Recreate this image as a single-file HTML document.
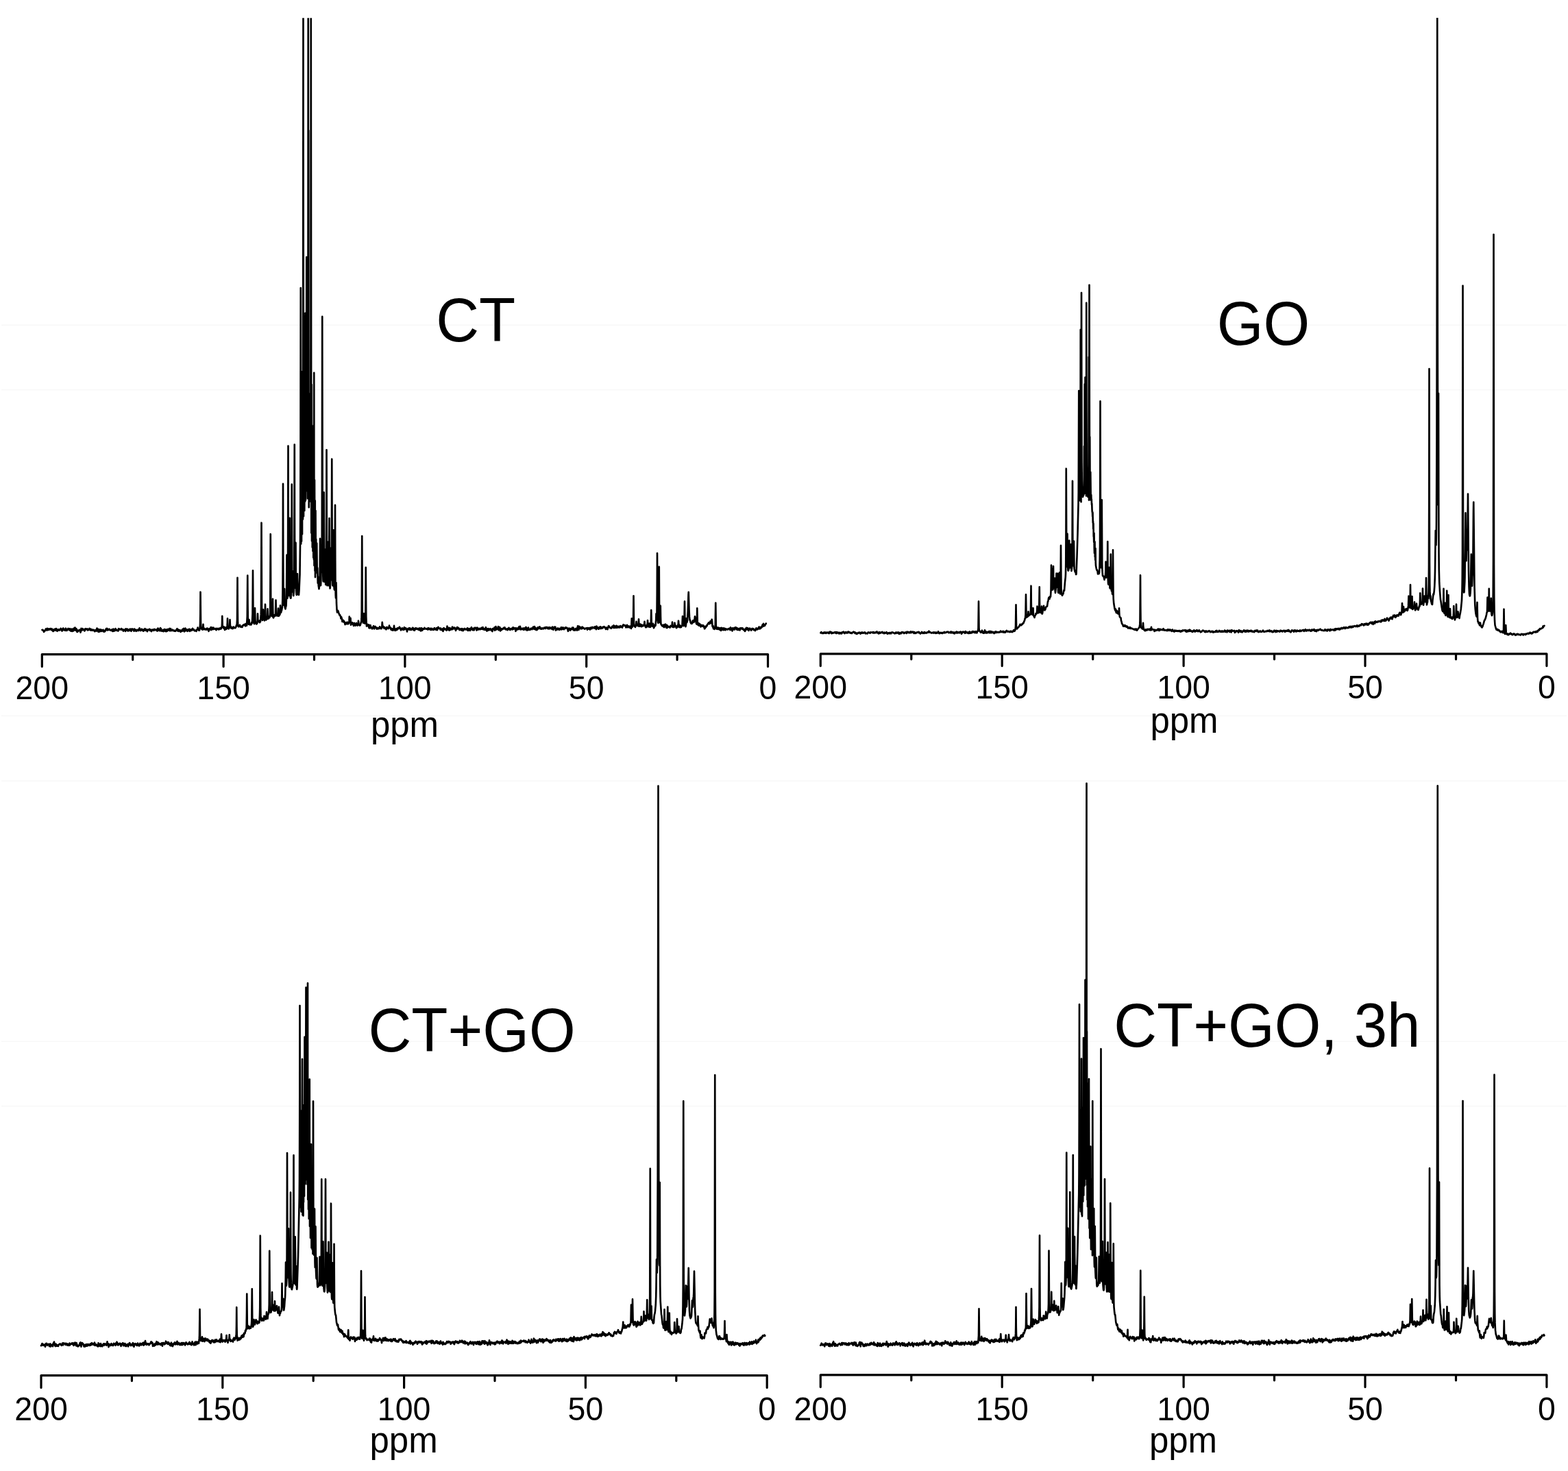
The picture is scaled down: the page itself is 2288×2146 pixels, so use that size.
<!DOCTYPE html>
<html lang="en">
<head>
<meta charset="utf-8">
<title>13C NMR spectra</title>
<style>
html,body{margin:0;padding:0;background:#fff;}
body{width:2288px;height:2146px;overflow:hidden;}
svg{display:block;}
text{font-family:"Liberation Sans",sans-serif;fill:#000;}
.t{font-size:46.5px;text-anchor:middle;}
.p{font-size:51px;text-anchor:middle;}
.l{font-size:87px;}
.s{fill:none;stroke:#000;stroke-width:2.65;stroke-linejoin:round;stroke-linecap:round;}
.a{fill:none;stroke:#000;stroke-width:3.2;stroke-linejoin:round;stroke-linecap:round;}
.g{stroke:#f4f4f4;stroke-width:1.1;}
</style>
</head>
<body>
<svg width="2288" height="2146" viewBox="0 0 2288 2146">
<rect x="0" y="0" width="2288" height="2146" fill="#fff"/>
<line class="g" x1="2" y1="474.3" x2="2286" y2="474.3"/>
<line class="g" x1="2" y1="568.8" x2="2286" y2="568.8"/>
<line class="g" x1="2" y1="1044.2" x2="2286" y2="1044.2"/>
<line class="g" x1="2" y1="1139.2" x2="2286" y2="1139.2"/>
<line class="g" x1="2" y1="1519.2" x2="2286" y2="1519.2"/>
<line class="g" x1="2" y1="1613.8" x2="2286" y2="1613.8"/>
<clipPath id="c0"><rect x="0" y="26.3" width="1144" height="1000"/></clipPath>
<g>
<path class="s" clip-path="url(#c0)" d="M61.5 918.9L62 919.3L62.5 918.9L63 919.9L63.5 919.9L64 921.8L64.5 920.8L65 921L66.5 918.5L67 917.4L68 918.3L68.5 919.6L69 916.9L69.5 917.2L70 918.8L70.5 917.3L71 918.9L71.5 918.4L72 918.2L72.5 917.5L73 918.4L73.5 917.1L74 917.1L74.5 917.3L75 918.8L75.5 919.3L76 917.6L76.5 919.4L77.5 920.9L78 920.7L78.5 920L79 918.1L79.5 918L80 919.5L80.5 917.6L81 919.4L81.5 919.6L82 917L82.5 918.7L83 918.3L83.5 920.8L84.5 918.4L85 919.5L85.5 918.3L86 919.1L86.5 919.4L87 919.2L87.5 919.3L88.5 916.8L89 918.3L89.5 917.6L90 917.7L90.5 920.6L92 916.6L92.5 916.6L93 918.4L93.5 919.4L94 918.1L94.5 918.7L95 918.9L95.5 919.8L96 916.7L96.5 919L97 919.3L97.5 919.9L98 919.4L98.5 917.8L99 918.2L99.5 916.9L100 918.5L100.5 918.6L101 919.1L101.5 917.5L102 917.2L102.5 920L103 918.7L103.5 920.7L104 919.6L104.5 917.6L105 920.2L105.5 920.9L106.5 917.6L107 920.4L107.5 919.3L108 919.5L108.5 916L109 919.2L109.5 915.6L110.5 919.8L111 917.1L111.5 917.4L112.5 921.9L113 922L113.5 919.5L114 920.9L114.5 920.2L115 919.7L115.5 919.9L116 918.8L116.5 920.4L117 920.7L117.5 922.6L118 920.6L118.5 916.8L119.5 919.5L120 919.2L120.5 917.1L121 918.9L121.5 918.4L122.5 918.3L123 919.7L123.5 920.5L124 919.5L124.5 917.2L125.5 917.4L126 918.1L126.5 917.8L127 918L127.5 917.5L128 919.4L128.5 919.1L129 919.1L129.5 917.8L130 918.4L130.5 916.9L131 917L131.5 917.9L132 919.5L132.5 919L133 918L133.5 919.4L134 919.7L134.5 919.5L135 918.7L135.5 919.5L136 918.9L137 919L138 921.2L138.5 921.2L139.5 919L140 918.9L140.5 918.9L141 920.6L141.5 916.5L142 920L142.5 917.6L143.5 921.8L144.5 918L145 921.6L145.5 921.4L146 920L146.5 920.7L147 918.4L147.5 920.5L148 920.9L148.5 919.6L149 919.2L149.5 920.4L150 920.5L150.5 918.8L151 921.4L152 920.2L152.5 921.6L153.5 920.6L154 918.7L154.5 919.6L155 917.2L155.5 918.3L156 916.8L156.5 917.1L157 919.5L157.5 918.6L158 918.3L158.5 918.8L159 918.7L159.5 917.7L160 919.1L160.5 919.2L161 919L161.5 919.6L162 919.3L162.5 918.7L163 918.6L163.5 919L164 921L164.5 918L165 919.6L165.5 917.5L166 920.8L166.5 918.6L167 919.1L167.5 920.2L168 919.8L168.5 917L169 919.2L169.5 918.4L170 919.5L170.5 919.2L171 920L172 919.2L172.5 920.5L173 917.2L173.5 918.2L174 917.4L174.5 918.3L175 918L175.5 918.4L176 918.2L176.5 918.3L177 917L177.5 918.6L178 918.9L178.5 918L179.5 918.2L180 920.7L180.5 919L181 919.3L181.5 918.7L182 918.6L182.5 918.3L183 921L183.5 917.4L184 919.5L185 918.9L185.5 917.5L186 917.9L186.5 920.4L187 918.5L187.5 920.2L188.5 919.7L189 919.8L189.5 917.7L190.5 919.9L191 917.7L191.5 920.8L192 918.1L192.5 918.5L193 917.4L193.5 919L194 918.1L194.5 918.9L195 918.2L195.5 920.7L196 917.5L196.5 919.6L197 919.4L197.5 919.9L198 918.5L198.5 920.8L199 920.5L199.5 919.5L200 919.5L200.5 919L201 920L201.5 918.5L202 920L202.5 919.7L203.5 916.3L204 919L204.5 918.8L205 920.1L205.5 918.7L206.5 917.6L207 919.4L208 918.5L209 920.7L210 918.5L210.5 919.9L211 918.1L211.5 917.2L212 919.2L212.5 917.9L213 919.9L214 918.4L215 921.2L215.5 919.7L216 918.7L216.5 919.1L218 917.7L218.5 919.4L219 920L219.5 918.4L220 919.8L220.5 920.1L221 921.1L221.5 919L222 918.6L222.5 919.2L223 918.7L223.5 918.8L224 919.8L224.5 918L225 918.9L225.5 918L226 919.3L227 918.6L227.5 919L228 918.6L229 920.3L229.5 917.8L230 920.4L230.5 916.5L231 919.1L231.5 919.5L232 918.1L232.5 918.7L233 918.3L233.5 920.4L234 916L234.5 918.4L235 917.2L235.5 919.5L236 920.7L236.5 920.6L237 920.1L237.5 919.9L238 919L238.5 921.2L239 920.4L239.5 918.6L240 918L240.5 918.7L241 920.6L242 921.2L242.5 918.4L243 918.9L243.5 920.9L244 919.6L244.5 920.2L245 917.8L245.5 919L246 919.4L247 918.5L247.5 916.9L248 920.3L249 917L249.5 920L250 919.2L250.5 920L251 919.2L251.5 918.7L252 918.8L252.5 920L253 920.2L253.5 919.7L254 919.8L254.5 920.6L255 919.8L255.5 920.7L256 920.8L256.5 920L257.5 918.9L258 917.8L258.5 917.2L259 920.3L259.5 919L260 918.5L260.5 920.9L261.5 919.2L262 920.3L262.5 919.3L263 920.1L263.5 921.9L264 921.2L264.5 919.8L265 920.7L265.5 920.8L266 918.8L266.5 918L267 920.3L267.5 918L268 917L269 921.5L269.5 919.8L270 920.1L270.5 916.6L271.5 920.1L272 918.3L272.5 920.2L273 919.3L273.5 919.3L274 920.8L274.5 918.4L275 918.5L275.5 919.3L276 919.6L276.5 917.7L277 921L277.5 919.7L278 919.1L278.5 919.7L279 918.3L279.5 919.9L280 918.4L280.5 918.8L281 916.9L282 919L282.5 918.1L283.5 919.4L284 920.4L284.5 919.8L285 920.1L285.5 919.7L286 920.5L286.5 920.9L287 918.8L288 918.5L288.5 915.6L289 918L289.5 918.9L290 919.6L290.5 918.6L291 919.7L291.75 914.8L292 910.3L292.25 895.3L292.5 863.7L293 908.5L293.5 916.3L294 917.4L294.5 917.8L295 917.4L295.5 918.7L296.25 914.3L296.5 910.8L297 917.6L297.5 916.3L298 918.3L298.5 918.1L299 917.5L300.5 918.7L301 917.3L301.5 917.8L302 916.7L302.5 918.3L303 916.8L303.5 919L304 918.4L304.5 920.9L305 919.5L305.5 917.4L306 918.2L306.5 917.5L307.5 915.2L308 919.1L308.5 918.2L309 915.3L309.5 917.9L310 918.1L310.5 916.4L311 918.1L311.5 915.5L312 917L312.5 917L313 917.7L313.5 917.4L314 917.4L314.5 918.1L315 916.9L315.5 919.2L316 917.1L316.5 918.1L317 917.1L317.5 916.8L318 917.5L318.5 917.3L319 918.5L319.5 918.4L320 916.7L320.5 917.9L321 917.5L321.5 916.4L322 915.9L322.5 917.4L323.25 915.9L323.75 914L324 909.5L324.25 898.9L324.75 914L325 915.1L325.5 913.9L326 914.5L326.5 916.7L327 914.6L327.5 915.7L328 919L328.5 916.9L329.5 915.3L330 918L330.5 916L331 917L331.25 916L331.5 914.3L331.75 910.2L332 902.3L332.5 916.5L332.75 916.6L333 916L333.5 917.4L334 917.1L334.5 915L334.75 915L335 914.5L335.5 904.1L336 914.9L336.25 915.4L336.5 915.3L337 914.3L337.5 916.7L338 915.8L338.5 916.3L339 915.6L339.5 917.2L340 914.9L340.5 916.5L341 914.6L341.5 915.7L342 915.5L342.5 916.1L343 916.3L344 915.4L345 912L345.5 913.3L346 904.4L346.5 842.8L346.75 884.8L347 906.3L347.25 910.7L348 914.3L348.5 914.1L349 913.3L349.5 913.8L350 911.8L350.5 913.8L351.5 914.8L352.5 913.7L353 913.6L353.5 914.9L354 912.5L354.5 913.1L355.5 911.4L356 911.7L356.5 911.8L357 910.8L358 913.3L358.5 910L359 911.1L359.5 910.8L360 912.6L360.75 899.4L361.25 839.5L361.5 880.9L361.75 900L362 905.1L362.5 910.3L362.75 910.6L363 910.3L363.5 904L363.75 908.1L364 910.3L364.25 911L364.5 911.4L365 910.5L365.5 911.1L366.5 911.4L367 908.2L367.5 909.5L368 906.1L368.5 895.6L369 832.4L369.5 899.5L369.75 905.9L370 908.4L370.25 908.5L370.5 908L371 910.2L371.5 906.6L372 887.1L372.5 905.3L373 908.8L373.5 908.3L374 910.5L374.5 910L375 910L375.25 909L375.5 907.3L375.75 903.1L376 895.4L376.5 907L376.75 906.9L377 906.3L377.5 907.1L378 907L378.5 906L379 908.2L379.5 905.2L380 906.9L380.25 904.2L380.75 896.4L381 885.1L381.5 762.7L382 883.4L382.25 895.4L382.5 900.2L383 904.9L383.25 904.4L383.5 902.9L384 889.3L384.25 896.9L384.5 899.9L386 905.3L386.5 900.8L387 881.7L387.5 901.3L387.75 903.2L388 904L388.5 904.3L389.5 900.6L390 903L390.5 888.4L391 902L391.5 900.1L392 902.5L393 899.3L393.5 900.7L393.75 899.3L394 895.8L394.25 884.5L394.75 779.2L395.25 883L395.75 895.6L396 897.2L396.5 898.8L396.75 898.8L397.25 898.2L397.5 896.7L398 873.8L398.25 890.5L398.5 899.5L398.75 901.1L399 901.3L399.5 899.9L400 899.1L400.5 897.1L401 899L401.5 897.7L401.75 897.7L402 896.4L402.5 875.6L403 896.6L403.25 897.9L403.75 898.3L404.75 898.4L405.25 898.2L405.5 897.6L406 887.6L406.5 898.6L406.75 898.7L407.5 897.7L408 896.6L408.25 896.7L408.5 896.1L409 883.4L409.5 892.8L409.75 893.5L410 893.6L410.5 891.6L411 890.4L411.75 886.2L412 883.6L412.25 876.9L412.5 861.1L412.75 810L413 705.8L413.25 809.8L413.5 860.7L413.75 875.4L414 880.7L414.25 882.7L414.5 881.9L415 859.1L415.5 883.9L415.75 886.2L416.5 888.4L417 885.4L417.5 884L418 873L418.5 809.7L419 867.8L419.25 872.7L419.5 872.3L419.75 864.9L420 845.3L420.5 650.6L421 841.6L421.25 860.2L421.5 866.8L421.75 869L422 867.4L422.25 858.5L422.75 755.8L423.25 859.2L423.5 869.1L423.75 872L424 872.6L424.25 872.7L424.5 871.8L425 862.8L425.25 849.4L425.5 803.4L425.75 706.6L426.25 846.5L426.5 858.9L426.75 863.5L427 863.1L427.25 854.8L427.5 833L428 868.5L428.25 869.1L428.75 864.2L429 857.6L429.25 839.1L429.75 648.6L430 773.7L430.25 835.3L430.5 853.2L430.75 857.7L431 854.6L431.5 791.7L431.75 834.8L432 856L432.25 863.4L432.5 867L432.75 867.8L433 867.8L433.5 862.5L434 837.1L434.5 866.1L434.75 866.6L435 865.4L435.75 867.5L436 867.8L436.5 861.4L437.5 838.4L438 795.7L438.25 753.7L438.5 640.8L438.75 420.1L439.25 793.5L439.75 609L440 789.7L440.5 572.7L440.75 717.4L441 779.3L441.25 542L441.5 707.7L441.75 717.2L442 757.6L442.5 -13.7L443 753.2L443.5 518.6L443.75 689.3L444.25 744.9L444.75 664.3L445 461.5L445.25 731.5L445.5 456.9L446 729.6L446.5 481.1L447 716.3L447.25 375L447.75 711.4L448 641.7L448.25 478.5L448.5 654.2L449 727.2L449.5 447L449.75 -13.7L450 726L450.25 190.3L450.5 603L450.75 740.2L451.25 586.8L451.5 732.1L451.75 695.1L452 575.1L452.25 704.2L452.5 726.2L452.75 727.1L453 716.5L453.25 677.2L453.5 485.7L453.75 -13.7L454.25 777.4L454.75 561.1L455 789.3L455.5 620.9L455.75 798.4L456 639.4L456.5 804L457 676.2L457.25 813.5L457.5 661.1L458 816.6L458.25 543.8L458.5 825.1L459 700.2L459.5 832.8L459.75 730.4L460 842.1L460.5 745.1L460.75 793.8L461 806.7L461.25 786.8L461.5 814.7L461.75 824.9L462 815.8L462.25 792.6L462.75 836.1L463 836.6L463.25 828.6L463.75 850.6L464 850.2L464.25 841.7L464.75 854.4L465.5 859.2L466.25 852.5L466.5 845.6L466.75 826.7L467 785.7L467.5 848L467.75 853.3L468 854.1L468.25 850.6L468.75 818.7L469 831.3L469.25 834.7L469.5 825.4L469.75 792.4L470.25 461.9L470.75 795.4L471 827.6L471.5 846.5L471.75 848.3L472 846.4L472.25 834.2L472.75 718.4L473 794.6L473.25 833.9L473.5 846.7L473.75 848.9L474 845.7L474.5 801.7L475 848.5L475.25 853L475.5 853L475.75 846L476 828.2L476.25 771.9L476.5 656.2L477 827.2L477.25 846.4L477.5 854.1L477.75 850.5L478 831.9L478.25 790.6L478.75 847L479 851.6L479.25 854L479.5 854.2L479.75 851.9L480 844L480.5 756.1L480.75 814.5L481 842.3L481.25 853.2L481.5 858.4L481.75 857.8L482 853.2L482.5 799.5L482.75 831.9L483 845.6L483.25 846.1L483.75 827.5L484.25 669.7L484.75 833.4L485.25 852.6L485.5 854.4L485.75 854.1L486 848.6L486.5 773.4L487 846.6L487.25 853.9L487.75 859.3L488 860.5L488.25 857.3L488.5 847L488.75 812.3L489 736.9L489.25 817.2L489.5 856.5L489.75 868.7L490 872.5L490.25 865.9L490.5 850L491 879.9L491.5 889.4L492 893.4L493 890.7L493.5 891.6L494.25 894.2L495.5 897.5L496 897L497 899.4L497.5 902.5L498 900L499 903.1L499.5 907L500 905.7L501 904.8L501.5 907.4L502 906.3L502.5 908.2L503 907.5L503.5 911.1L504 908.2L504.5 910.3L505 909.9L505.5 910.2L506 908.4L506.5 907.7L507 908.2L507.5 910.3L508 909.4L508.5 909.8L509.25 908.3L509.5 905.9L509.75 899.6L510 904.9L510.25 907.5L510.5 908.2L511.25 905L511.5 901.8L512 911.7L512.5 909.7L513 909.9L514 908.2L515 911.2L515.5 910.1L516 912.9L516.5 909.1L517 908.9L517.5 911L518 910L518.5 912.8L519 910.6L519.5 911.3L520 909.1L520.5 911.4L521 911.6L521.5 912.6L522 911.4L522.25 911.5L522.5 911.3L523 905.7L523.5 911.3L523.75 911.2L524 910.8L524.5 912.3L525 911.4L525.5 912.4L526.75 908.5L527.25 906L527.5 902.7L527.75 890.3L528.25 782.1L528.75 889.9L529 901.9L529.25 905.4L530 908.8L530.25 908.6L530.5 907.3L530.75 904L531 895.1L531.25 904.2L531.5 907.7L531.75 909.1L532.25 909.6L532.5 909.2L532.75 908.4L533 906.1L533.25 899.3L533.5 876.4L533.75 827.8L534.25 899L534.75 911.1L535 913.5L535.5 910.3L536 913.2L536.5 913.1L537 912.4L537.5 912.8L538 911.3L538.5 916.1L539 914.7L539.5 914.7L540 916.3L540.5 912.1L541 914.5L541.5 915.4L542 915.8L542.5 915.8L543 917.5L543.5 915.3L544 916.2L544.5 915.9L545 913.2L545.5 914.1L546 917.4L546.5 914.9L547 915L547.5 913.9L548 915.4L548.5 915.1L549.5 917.5L550 915.8L550.5 915.8L551 917.5L551.5 916.3L552 916.3L552.5 917.1L553 915.9L553.5 916.3L554 914.4L554.5 917L555 915.8L555.5 916.3L556 915.4L556.5 917.2L557 916.5L557.25 915.5L557.75 907.8L558.25 912.9L558.75 914.2L559 914.6L559.5 913.8L560.5 916.7L561 915.3L561.5 916.3L562 915.9L562.5 917.3L563 916.6L563.5 918.3L564 915.5L564.5 914.8L565 916.5L565.5 915.8L566 916.1L566.5 917.2L567 915.3L567.5 915.9L568 912.6L568.5 916.1L569 915.3L569.5 915.4L570 915.9L570.5 918.5L571 916.8L571.5 919.1L572 917.2L573 917.8L573.5 919.6L574 917.5L574.5 917.1L575 912.9L575.5 917.1L575.75 917.3L576 917.3L576.5 919.9L577 919.6L577.5 917.5L578 918.5L578.5 917L579 919.1L579.5 918.6L580.5 916L581 917.4L581.5 916.9L582 915.8L582.5 916.7L583 914.7L583.5 916L584 916.2L585 919.4L585.5 917.3L586 918.2L586.5 916.7L587 916.3L587.5 918.1L588 917.7L588.5 918.9L589 918.5L590 915.2L590.5 918.3L591 916.7L591.5 916.2L592 916.1L593.5 919L594 921.5L594.5 917.7L595 918.6L595.5 916.9L596 916.9L596.5 918L597 918.3L597.5 916.2L598 918.8L598.5 916.5L599 918.6L599.5 917.6L600 918.9L600.5 918.6L601 917.5L601.5 918L602 915.8L602.5 915.8L603 917.1L603.5 919.3L604 917L604.5 917.3L605 919.7L605.5 917.8L606 917.5L606.5 916.2L607 917.3L607.5 917.7L608 916.7L608.5 917.4L609 917.1L609.5 918.2L610 918.1L610.5 917L611.5 919.2L612.5 916.3L613 918.1L613.5 917.6L614 920.5L615 916.3L615.5 917.6L616 919.8L616.5 917.2L617 917.9L617.5 918.2L618.5 916.9L619 917.6L619.5 915.8L620 916.8L621 917.4L621.5 917.3L622 917.6L623 917L624 918.4L624.5 918.5L625 916.2L625.5 917.6L626 917.9L626.5 916.8L627 918L627.5 917.7L628 918.7L628.5 916.8L629 918.9L629.5 917.6L630 916.9L630.5 917.1L631 918.5L631.5 918.6L632 918.1L632.5 918.9L633 917.6L634 916.1L634.5 918.1L635 918.1L635.5 918.3L636 918.1L636.5 918.9L637 916.2L637.5 916.1L638 919.1L639 916.9L639.5 914.9L640 915.9L641.5 916.8L642 916.7L642.5 918.6L643 916.5L643.5 917.8L644 917.6L644.5 919.2L645 918.2L645.5 918.5L646 917.4L646.5 921L647 917.6L647.5 916.2L648 917.3L648.5 917L649 918.4L649.5 918.5L650 918L651 917.3L651.5 919.6L652 918.5L652.5 913.5L653 916.5L653.5 915.6L654 916.5L654.5 919.2L655 916.2L655.5 915.9L656 919.6L656.5 916.3L657 916.8L657.5 918.7L658 917.1L658.5 917.7L659 917.6L659.5 918.3L660 914.5L661 916.2L661.5 917.5L662 915.8L662.5 916.8L663 915.6L663.5 915.8L664 917.8L664.5 916.4L665 920L665.5 917.1L666 918L666.5 917.5L667 915L667.5 915.1L668 917.5L668.5 915.8L669.5 917.2L670 916.8L670.5 919.1L671.5 918L672 918.7L672.5 917.3L673 919.3L673.5 917.2L674 919.6L674.5 917.2L675 917.8L675.5 920.2L676 919.8L676.5 917.7L677 918.7L677.5 917.3L678 917L678.5 917.7L679 917.9L679.5 918.5L680 918L680.5 917.8L681 917.3L681.5 918.9L682 916.4L682.5 919.5L683 919.9L683.5 919.8L684 917L684.5 919.2L685 917.7L685.5 917.3L686 919.9L686.5 916.8L687 917.7L687.5 916L688 915.1L688.5 918.2L689.5 919.1L690 919.1L690.5 916.8L691 919.2L691.5 919.3L692 919L692.5 915.8L693 915.8L694 916.6L694.5 915.8L695 917L695.5 919.6L696 916.7L696.5 915.6L697 917.3L697.5 917.1L698 918.6L698.5 917.1L699 917.6L699.5 916.8L700 916.8L700.5 918.3L701.5 917.5L702 917.7L702.5 915.8L703 916.4L703.5 916.5L704 917.9L704.5 915.1L705 917.2L705.5 918.3L706 917.1L707 918.7L707.5 918.8L708 916.6L708.5 917.1L709 915.2L709.5 919.3L710 919.3L710.5 920.6L711.5 917.4L712 919.7L712.5 917L713 918.4L713.5 918.2L714 919.2L714.5 919.1L715 917.4L715.5 917.1L716 918.1L716.5 917.8L717 919.8L717.5 919.2L718.5 921.1L719 917L719.5 917.1L720 918.2L720.5 917.9L721 916.9L721.5 915.3L722 919.7L722.5 916.5L723.5 914L724 918.6L724.5 918L725 917.8L725.5 916.6L726 917.6L726.5 917.1L727 914.1L727.5 919.2L728 916.4L728.5 915.3L729 914.8L729.5 916.1L730 920.4L731 917L731.5 919.3L732 918.5L732.5 918.4L733 917.5L733.5 917.2L734 917.6L734.5 917.1L735 915.8L735.5 916.3L736 917.4L736.5 915.4L737 917.1L737.5 917L738 918.4L739 917.6L739.5 917.6L740.5 919.2L741 917.2L741.5 916.9L742 917.9L742.5 915.8L743.5 918.5L744 918.5L744.5 919L745 917.3L745.5 917.5L746 916.9L746.5 916.9L747.5 918.4L748 918.1L748.5 915.4L749 918L750 916L750.5 916.4L751 917.5L751.5 917.1L752 916.4L752.5 920.8L753 916.3L754 918.7L754.5 916.8L755 918.4L755.5 916.4L756 916.5L756.5 915.6L757 917.9L757.5 914.2L758 916.2L758.5 915.8L759 913.9L759.5 918.4L760 916.3L761 918.1L761.5 917.1L762 917.3L762.5 917.9L763 916.7L763.5 917.5L764 918.8L764.5 916.5L765 916.3L765.5 918L766 918.4L766.5 918.5L767.5 914.9L768 918.6L768.5 918.6L769 919.5L769.5 916.6L770 918.3L770.5 918.9L771 915.6L771.5 918.5L772 918.8L772.5 917.9L773.5 918.8L774.5 916.8L775.5 917.8L776 916.6L776.5 918.2L777 916.3L777.5 916.3L778 914.6L778.5 917.1L779 915.9L779.5 918L780 914L780.5 916.4L781 915.9L781.5 916.3L782 918.9L782.5 918.4L783 916.6L783.5 919.1L784 916.6L784.5 917.9L785 915.2L785.5 917L786 917L786.5 916.6L787 914.8L787.5 914.3L788 916.5L788.5 917.5L789 917.3L789.5 917.4L790 916.4L790.5 917.7L791.5 916.4L792 917L792.5 917L793 917.3L794 915.6L794.5 916.4L795 916.6L795.5 915.5L796 917L796.5 915.4L797 914.8L797.5 915.6L798 915.4L798.5 916.5L799 915.3L800 917.3L800.5 915.8L801 916L801.5 915.1L802 917.3L802.5 916.7L803 916.8L803.5 915.7L804.5 916.6L805.5 917.9L806 914.6L806.5 915.6L807 915.8L807.5 918.7L808 915.7L808.5 915L809 916.5L809.5 914.7L810 916.8L810.5 914.7L811 919.5L811.5 917.9L812 918.1L812.5 917.4L813 918.4L813.5 917.9L814 916.4L814.5 918.4L815 916.9L815.5 917.7L816 918L816.5 918.9L817 916.8L817.5 917.3L818.5 917.8L819 915.2L819.5 918.5L820 917.3L820.5 916.9L821 917.7L821.5 915.4L822.5 916.9L823 918.2L823.5 916.5L824 916.7L824.5 915.7L825 916.8L825.5 915.3L826 916.3L827 915.6L827.5 916.1L828 916.9L829 920.8L829.5 917L830 916.7L830.5 918.1L831 918L831.5 916.8L832 919.6L832.5 918.5L833 918.5L833.5 917.3L834 917.2L834.5 918.1L835 915.6L836 917.2L836.5 915.6L837 919.5L837.5 917.4L838.5 918.7L839 919.7L839.5 917.9L840 917.1L840.5 916.8L841 918.1L841.5 917L842 919.7L842.5 918.2L843 913.4L843.5 916L844.5 918.9L845 913.7L846 916.9L846.5 914.8L847 915.8L847.5 915.6L848 917.4L848.5 915.6L849 916.6L849.5 914.6L850 917L851 915.6L852 916.6L852.5 916.8L853 917.6L853.5 917.7L854.5 916.5L855 916.5L855.5 916.3L856 917L856.5 916.5L857 918.6L857.5 916.1L858 916.4L858.5 916.2L859 917.6L859.5 917.1L860 916.3L860.5 917.2L861 918.5L861.5 915.6L862 915.7L862.5 916.3L863 916.4L863.5 917.2L864 914.9L864.5 915.6L865 915.3L865.5 915.5L866 916.1L866.5 915.2L867 916.4L867.5 916.5L868 914.5L868.5 914.3L869 917L869.5 915.8L870 918.2L870.5 913.6L871 916.2L871.5 915L872 915.4L872.5 916.9L873 917.5L873.5 916.3L874 917.6L874.5 915.1L875 916.6L875.5 916.2L876 914.3L876.5 917.1L877 915.4L877.5 916.6L878 915.2L878.5 916.1L879 916.6L880 914.6L880.5 915.3L881.5 914.1L882 915L883 915.5L884 917.9L884.5 915.6L885 916.3L885.5 915.8L886 915.8L886.5 918.2L887 915.3L887.5 915.6L888 913L888.5 913.4L889 914.5L890.5 916.2L891 915.9L891.5 916.5L892 916.6L892.5 915.2L893.5 913.7L894 914.5L894.5 914.3L895 915.8L895.5 912.3L896 913.2L896.5 913.3L897 916L898 913.6L898.5 913.4L899 915.6L899.5 912.9L900 915.6L900.5 915.7L901 913.8L901.5 914.9L902 915.3L902.5 913.8L904 915.5L904.5 915.5L905 913L905.5 914.8L906 913.9L907 913.7L907.5 915.2L908 915.5L908.5 913.1L909 913.3L909.5 911.3L910.5 912.7L911 912L911.5 912.7L912 912.2L912.5 913L913.5 915.4L914 912.6L914.5 914.7L915 911.8L915.5 915.1L916 914.6L916.5 913.8L917 915.1L917.5 913.4L918 914.3L918.5 914.1L919 915.7L919.5 913.7L920.5 914.4L921 917L921.25 914.4L921.75 902.3L922 909.5L922.25 913.4L922.5 914.8L922.75 914.6L923 914.2L923.5 911.5L923.75 911.2L924 908.6L924.5 869.3L925 908.5L925.25 911.6L926 913.7L926.5 912.4L927 914.9L927.5 912.9L927.75 913.2L928 913.1L928.5 906.8L928.75 910.4L929.25 912.3L929.5 912.5L930 912.4L931 913.1L931.75 907.6L932 903.3L932.5 913.6L933 910.3L934 913.6L934.5 910.5L935 911.6L935.5 911.7L936 914.2L936.5 911.6L937 913.4L937.5 912.5L938 913.4L938.5 912.2L939 911.8L939.5 912.6L940.25 909.6L940.5 906.8L941 912.2L941.5 913.2L942 914.9L942.5 915.4L943 912.5L943.5 912.3L944 914.4L944.75 909.5L945 905.1L945.5 913.7L946 912.8L946.5 914.5L947.25 912.2L947.5 909.5L947.75 912.5L948.25 914.4L948.5 914.9L949.25 914.5L949.5 913.9L949.75 910.6L950.25 890L950.75 909.2L951.25 911.4L952 913.5L952.25 913.7L952.5 913.6L952.75 912.6L953 909.9L953.25 912.3L953.5 913L954 916.2L954.5 913.9L955 914.3L956 911.1L956.5 912.7L957.25 904L957.5 895.4L957.75 902.4L958 904.2L958.25 902.5L958.5 894.8L958.75 866.1L959 807.1L959.5 894.8L959.75 903.4L960 906.7L960.25 908.3L960.5 908.8L960.75 906.9L961.25 896.7L961.75 826.9L962 876.1L962.25 898.4L962.5 904.4L962.75 907.2L963 908.1L963.25 905.8L963.75 883.7L964 899.4L964.25 907.6L964.5 910.6L965.5 912.2L966 912.1L966.5 913.4L967 911.9L967.5 912.2L968 914.2L968.5 911.6L969 915.1L969.5 914.5L970.5 910.9L971 910.6L971.5 914.3L972 914.4L972.5 915.9L973 911.9L973.5 915.9L974 915.3L974.5 913.2L975 914.4L975.5 914.2L976 914.7L976.5 914.2L977 914.2L977.5 915.7L978 913.7L978.5 912.9L979 913.5L979.5 913.9L980.25 913.8L980.5 913.5L981 907.5L981.5 914.7L981.75 915L982 915L982.5 913L983 914.5L983.5 914.8L984 912.9L984.5 908.7L985 913.5L985.5 913.8L986 914.4L986.5 912.8L987 916.2L987.5 913.9L988 915.2L988.5 914L989 914.3L989.75 909.2L990 905.7L990.25 909.1L991 914.9L991.5 912.1L992 912L992.5 915.3L993 913.5L993.5 913.6L994 915L995.25 912.3L995.5 911.4L996 899.1L996.5 911.5L996.75 912.3L997.5 913.2L998 907.9L998.25 907.4L998.5 905.2L999 877.4L999.5 908.7L999.75 911.2L1000.5 914.1L1001 911.7L1001.5 902.2L1001.75 906.6L1002 908.1L1002.25 908.1L1003 905.9L1003.75 892L1004.5 867.7L1004.75 863.9L1005.5 889.1L1006 899.4L1006.5 904.5L1006.75 904.7L1007 904.4L1007.5 907.7L1008.5 909.7L1009 908.5L1009.5 909.9L1010 909.4L1010.5 906.6L1011 905.4L1012 907.5L1012.25 907.8L1012.5 907.8L1013 904.3L1013.5 903.3L1014 899.3L1014.5 901.9L1015 906.5L1015.25 906.8L1015.5 906.8L1016 909.4L1016.5 910.6L1016.75 908.1L1017 900.9L1017.25 887.4L1017.75 906.7L1018.5 911.9L1019 911.9L1019.5 909.4L1020 912.7L1020.5 910.9L1021 910.1L1021.5 911.8L1022 911.9L1022.5 914.4L1023 911.8L1024 912.3L1025 913.7L1025.5 912.2L1026 912.9L1026.5 912.5L1027 914.7L1027.5 913.9L1028 917.3L1028.5 917L1029 914L1029.5 915.1L1030 915.1L1030.5 913.3L1031 912.7L1031.5 913.1L1032 911.5L1033 910L1033.5 910.3L1034 908.3L1034.5 909.5L1035.5 910.1L1036 907.8L1036.5 906.3L1036.75 906.5L1037 907L1037.5 908.9L1037.75 908.7L1038.5 904L1038.75 903.7L1039 905.6L1039.5 913.2L1040 914.5L1040.5 913L1041 917.2L1042 915.3L1042.5 917.9L1043 915.7L1043.25 915.8L1043.5 915.2L1043.75 911.1L1044.25 879.5L1044.75 911.6L1045.25 916.1L1045.5 917.4L1045.75 917.6L1046 917.7L1046.5 915.6L1047 917.4L1047.5 917.9L1048 917.6L1048.5 915.7L1049 917.7L1049.5 916.9L1050 918.6L1050.5 916.3L1051 918.6L1051.5 917.5L1052 920L1052.5 915.9L1053 918.2L1053.5 916.8L1054 916.4L1054.5 918.8L1055 918.4L1055.5 919L1056 916.4L1056.5 917.1L1057 918.8L1057.5 916.8L1058 918.9L1058.5 919.2L1059 917.4L1060 918.1L1060.5 917.9L1061 918.2L1061.5 917.9L1062 918.5L1062.5 917.6L1063 917.4L1063.5 917.5L1064 916.8L1064.5 917L1065 917.5L1065.5 919.2L1066 915.4L1066.5 916.1L1067 917.9L1067.5 918.3L1068 918.4L1068.5 920.5L1069 916.4L1069.5 918.3L1070 917.1L1071 918.3L1071.5 915.8L1072 918.5L1072.5 916.4L1073 916L1073.5 915.2L1074 916.2L1074.5 916.3L1075 918.4L1075.5 916.1L1076 918.2L1076.5 918.9L1077 917.6L1077.5 918.8L1078 917.2L1078.5 918.1L1079 917L1079.5 919.5L1080 916.5L1080.5 916.5L1081 917.2L1081.5 916.2L1082 916.5L1083 917.8L1083.5 916.3L1084 917.2L1084.5 917.4L1085 918.9L1085.5 919.5L1086.5 919.5L1087 920.9L1087.5 917.5L1088 919.7L1088.5 918.2L1089 915.9L1089.5 917.8L1090 916.3L1090.5 917.8L1091 916L1091.5 919.1L1092 917.4L1092.5 920L1093 917.3L1093.5 918.2L1094 916.6L1094.5 917.9L1095.5 917.8L1096 919.6L1097.5 916.9L1098.5 917.5L1099 917.1L1099.5 918.9L1100 918.3L1100.5 919.1L1101 918.1L1101.5 918.7L1102 920.1L1102.5 918.2L1103 918.5L1103.5 916.3L1104 917.1L1104.5 917.2L1105 918.4L1105.5 918.1L1106 916.7L1106.5 917.4L1107 916.7L1107.5 914.5L1108.5 917.4L1109 915.1L1109.5 917L1110 916.6L1110.5 915.8L1111 915.6L1111.5 914L1112 914.9L1112.5 911.7L1113 911.2L1113.5 912.1L1114 909.9L1114.5 913.6L1115 912.1L1115.5 912.6L1116 912.7L1116.5 911.4L1117.5 910.2L1117.75 909.5"/>
<path class="a" d="M61.3 972.4 L61.3 954.6 L1120.5 954.6 L1120.5 972.4M193.7 954.6L193.7 962.6M326.1 954.6L326.1 972.4M458.5 954.6L458.5 962.6M590.9 954.6L590.9 972.4M723.3 954.6L723.3 962.6M855.7 954.6L855.7 972.4M988.1 954.6L988.1 962.6"/>
<text class="t" transform="matrix(1 0 0 1.04 61.3 1019.8)">200</text>
<text class="t" transform="matrix(1 0 0 1.04 326.1 1019.8)">150</text>
<text class="t" transform="matrix(1 0 0 1.04 590.9 1019.8)">100</text>
<text class="t" transform="matrix(1 0 0 1.04 855.7 1019.8)">50</text>
<text class="t" transform="matrix(1 0 0 1.04 1120.5 1019.8)">0</text>
<text class="p" x="590.5" y="1074.8">ppm</text>
<text class="l" transform="matrix(1 0 0 1.04 636.3 497.5)">CT</text>
</g>
<clipPath id="c1"><rect x="1144" y="26.0" width="1144" height="1000"/></clipPath>
<g>
<path class="s" clip-path="url(#c1)" d="M1197.5 923.4L1198 922.5L1198.5 922.1L1199.5 923.8L1200 923.5L1200.5 923.6L1201 924L1201.5 923L1202 922.8L1202.5 923.7L1203 922.4L1203.5 923.4L1204 922.7L1204.5 923.7L1205 922.5L1205.5 923.8L1206 923.3L1207 922.7L1207.5 923.1L1208 922.7L1208.5 922.5L1209 923.9L1209.5 923.6L1210 924L1210.5 922.3L1211 921.5L1211.5 921.5L1212 922.9L1212.5 923.4L1213 922.3L1213.5 924.2L1214.5 922.8L1215.5 923.7L1216 923.1L1216.5 923.1L1217.5 922.5L1218 923.1L1218.5 922.1L1219 923.2L1219.5 922.4L1220 923.8L1220.5 922.2L1221 924L1221.5 922.5L1222 922.4L1222.5 923.1L1223 923.4L1223.5 922.8L1224 922.9L1224.5 924.5L1225 923.9L1225.5 922.9L1226 923.4L1226.5 924.2L1227 923.1L1227.5 923.4L1228 924.3L1228.5 922.7L1229 923.1L1229.5 922.2L1230.5 922.8L1231 921.7L1231.5 922.8L1232 923.2L1232.5 924.1L1233.5 922.4L1234 923.1L1234.5 922.1L1235.5 923.3L1236 922.7L1236.5 923.4L1237 922.7L1237.5 921.5L1238 922.4L1238.5 921.9L1239 923L1239.5 922.2L1240 922.6L1240.5 922.7L1241 923.7L1241.5 923L1242 923.1L1243 924.1L1243.5 922.9L1244 923L1245 922.3L1245.5 921.6L1246 922.3L1247 922.3L1247.5 923.9L1248 922.7L1248.5 923.3L1249 923.4L1249.5 924.6L1250 923.8L1250.5 924.9L1251 923.5L1251.5 924L1252 923.9L1252.5 923L1253 923.6L1254 922.6L1254.5 922.8L1255.5 924.5L1256 923.2L1256.5 923.9L1257 923L1257.5 923.5L1258 922.5L1259 923.6L1259.5 923L1260 923L1260.5 923.5L1261 922.8L1262 922.4L1262.5 923.1L1263 924.3L1263.5 923.7L1264 923.7L1264.5 924.1L1265.5 924.4L1267 922.3L1267.5 922.8L1268 922.9L1268.5 923.5L1269 923.3L1269.5 922.7L1270 923.6L1270.5 922.4L1271 922.7L1272 922.6L1272.5 922.7L1273 922.2L1273.5 922.2L1274 923.5L1274.5 922L1276 923.5L1276.5 923.5L1277 922.8L1277.5 922.4L1278 922.4L1278.5 923L1279.5 921.3L1280 922.9L1280.5 922.4L1281.5 924.1L1282 923.3L1282.5 924.3L1283 922.2L1283.5 923.2L1284.5 923.7L1285 922.5L1285.5 922.8L1286.5 922.9L1287 922.1L1287.5 921.9L1288 923.3L1289 923.1L1289.5 923.8L1290 924.2L1290.5 922.6L1291 923.5L1291.5 923.7L1292.5 923.1L1293 923.3L1293.5 922.2L1294.5 924.2L1295 924.6L1296 923.2L1296.5 923.2L1297 923.6L1297.5 924.3L1298.5 923L1299 923.7L1299.5 923.4L1300 924.3L1300.5 923L1301 922.7L1301.5 922.8L1302 922.4L1303 923.1L1303.5 922.8L1304 923.4L1304.5 923.4L1305.5 924.3L1306 923.6L1306.5 923.6L1307 922.6L1307.5 923.8L1308 923.8L1308.5 922.7L1309 922.9L1309.5 922.7L1310 923.7L1310.5 923.3L1311 923.8L1311.5 922.4L1312 925L1312.5 923.2L1313 923.3L1313.5 924.2L1314 923.5L1314.5 924.4L1315 922.6L1315.5 922.3L1316 923.1L1316.5 923.2L1317 922.1L1318.5 922.8L1319 924L1320 923.4L1320.5 923.2L1321 922.4L1321.5 923.1L1322 922.6L1322.5 922.4L1323 924L1323.5 921.7L1324 922.6L1325 922L1325.5 922.8L1326 923.1L1326.5 923.2L1327 922.2L1327.5 923L1328 922.7L1328.5 923.1L1329 921.3L1329.5 922.2L1330 922.2L1330.5 922.9L1331 921.9L1331.5 922L1332 921.6L1332.5 921.7L1333 922.3L1333.5 923.9L1334.5 922.2L1335 923.8L1335.5 923.2L1336 923.8L1336.5 923.8L1337 923.2L1338 922.4L1338.5 922.7L1339 922.1L1339.5 922.4L1340 923L1340.5 921.8L1341.5 922.6L1342 923.6L1342.5 923.8L1343 924.5L1344 923.5L1344.5 923.4L1345 921.9L1345.5 922.7L1346 922.5L1346.5 923.9L1347 923.8L1347.5 922.8L1348 923.1L1348.5 923.9L1349 922.1L1350 923.4L1350.5 923.4L1351 922.9L1351.5 923.5L1352 922.9L1352.5 923.3L1353 923.1L1353.5 922.2L1354 922.7L1354.5 922L1355 922.2L1355.5 920.7L1356 922.6L1356.5 922.4L1357 922.4L1357.5 922.7L1358 922.3L1358.5 923.2L1359 923.5L1360 923.4L1360.5 923.1L1361 923.1L1361.5 922.4L1362.5 923.5L1363.5 922.3L1364.5 923.5L1365 922.8L1365.5 923.9L1366 922.6L1366.5 923.6L1367 923.6L1367.5 923.2L1368.5 923.2L1369 921.4L1369.5 923.1L1370 923.9L1370.5 923.6L1371 924.2L1371.5 922.9L1372 923.4L1372.5 923.4L1373 922.8L1373.5 923.6L1374.5 923.1L1375 924L1375.5 923.9L1376 922.8L1376.5 923.2L1377 923L1377.5 923L1378 921.9L1378.5 923.4L1379.5 922.9L1380 923L1380.5 922.8L1381.5 921.8L1382 922.2L1382.5 921.8L1383 921.9L1383.5 921.6L1384.5 923.2L1386 922.5L1386.5 922.4L1387 921.7L1387.5 923.5L1388 922.1L1388.5 921.7L1389 923L1389.5 923.1L1390.5 922.3L1391 922.3L1391.5 924L1392 923.1L1392.5 922.8L1393 924.3L1393.5 922.8L1394 922.3L1394.5 922.9L1395 922.5L1395.5 923.3L1396 921.6L1396.5 923.1L1397 922.1L1397.5 923.4L1398 922.6L1398.5 922.6L1399 922.3L1399.5 923.1L1400 923.4L1400.5 922.1L1401.5 921.7L1402 922.6L1402.5 921.8L1403 924.7L1403.5 922.4L1404 923.6L1405 921.8L1405.5 921.6L1406 922.2L1406.5 922.2L1407 922.5L1407.5 921.8L1408 923.8L1408.5 923.6L1409 921.1L1409.5 922.4L1410 923L1410.5 922.4L1411 922.5L1411.5 923.5L1412 923.4L1412.5 922.4L1413 923.9L1413.5 922.7L1414 924L1414.5 922.2L1415 921.5L1415.5 923L1416 923.7L1417.5 922.3L1418 923.4L1418.5 921.3L1419 922.5L1419.5 921L1420 921.6L1420.5 921.3L1421 921.5L1421.5 922.9L1422 921.6L1422.5 922.8L1423 922.3L1423.5 923.1L1424 921.2L1425 922.4L1425.5 923.3L1426 921.1L1426.75 920.9L1427 920.6L1427.25 919.6L1427.5 916.4L1428 877.4L1428.5 915.8L1428.75 919L1429 920L1429.5 920.8L1430 920.8L1430.5 922L1431 922.7L1431.5 922.2L1432 921.1L1432.5 921.7L1432.75 921.3L1433 919.7L1433.5 922.9L1434 922.9L1434.5 923.6L1435 921.8L1435.5 921.7L1436 923.7L1436.75 921.2L1437 919.3L1437.5 921.7L1438 921.1L1438.5 923.5L1439 921.9L1439.5 921.9L1440.5 923.4L1441 921.9L1441.5 922.1L1442 921.8L1442.5 922.4L1443 921.1L1443.5 923.3L1444 921.5L1444.5 922.4L1445 920.9L1445.5 923.2L1446 922.3L1446.5 923.1L1447 921.4L1447.5 922.6L1448 921.9L1448.5 922.1L1449 923.2L1449.5 922L1450.5 924L1451 923.7L1452.5 921.3L1453 922.8L1453.5 921.7L1454 922.9L1454.5 921.9L1455.5 922L1456 922.7L1456.5 922.3L1457 922.6L1457.5 922L1458 922.5L1458.5 922.3L1459 922.3L1459.75 921.2L1460 920.5L1460.25 921.4L1461 922.1L1461.5 921.9L1462 921.3L1462.5 922.1L1463 921.1L1463.5 922L1464 921L1464.5 922.5L1465 922.6L1465.5 921.7L1466 922.5L1466.5 921.8L1467 922.6L1467.5 922L1468 920.7L1468.5 921.2L1469 919.9L1470 921.3L1470.5 921.6L1471 921L1471.5 921L1472 921.5L1472.5 921.2L1473 921.9L1473.5 922.2L1474 921.4L1474.5 921.7L1475 920.7L1476 921.3L1476.5 922.1L1477 921.5L1477.5 921.9L1478 920.5L1478.5 921.1L1479 919.3L1479.5 920.7L1480 919L1480.5 920.8L1481.5 918.7L1482 913.9L1482.5 882.3L1483 912.1L1483.25 915L1484 917.4L1485 916L1486.5 914.8L1487 914.1L1487.5 912.7L1488 912.3L1488.5 910.8L1489 912.2L1489.5 911.7L1490 912.3L1490.5 911.9L1491 910.6L1491.5 910.5L1492 910.7L1493 908.6L1493.5 909L1494.5 906.1L1495 905.4L1495.5 902.6L1495.75 902.6L1496 902.4L1496.5 896.6L1497 867.4L1497.5 896L1498 900.7L1498.5 899.8L1499 900L1499.5 899.6L1499.75 898.9L1500.25 896L1500.5 892.4L1501 898.5L1501.5 896.5L1502 897.6L1503 896.2L1503.25 896.5L1503.5 896.6L1504 890.2L1504.5 854.7L1504.75 878.8L1505 890.1L1505.25 893.3L1505.75 895.3L1506.25 896.3L1506.5 896.6L1506.75 896.5L1507 896L1507.5 887.1L1508 897.9L1508.25 898.6L1509 899.1L1509.5 901L1510 898.8L1511 897.1L1511.5 895L1512 895.5L1512.25 895.4L1512.5 895.3L1512.75 894.5L1513.25 890.3L1513.5 884.6L1513.75 889.6L1514 891.6L1515 894.2L1515.5 893.7L1516.25 887.1L1516.75 856.3L1517 877.9L1517.25 889.2L1517.5 893.3L1517.75 893.5L1518 893.1L1518.5 893.7L1519 893.3L1519.25 893.4L1519.5 893.1L1520 884.5L1520.5 895.4L1520.75 895.5L1521 895.1L1522 888.9L1522.75 886.1L1523 883.9L1523.5 888L1524 889.8L1524.5 890.3L1525 889.2L1525.5 888.7L1526 886.1L1527 884.8L1527.5 884.8L1528 884.5L1529 877.4L1529.5 876.9L1530 873.2L1530.5 871.6L1531 873.8L1531.5 873.7L1532 870.3L1532.5 871.2L1533 870.1L1533.5 862.5L1534 824.5L1534.25 847.6L1534.5 858L1534.75 860.8L1535 859.7L1535.25 849.8L1535.5 830.1L1536 857.2L1536.25 860.3L1536.5 859.7L1537 826L1537.25 846.9L1537.5 856.4L1537.75 857.7L1538 856.9L1538.25 857.6L1538.5 857.2L1539 843.5L1539.5 860.9L1540 864.9L1541 855.4L1541.5 836.5L1542 855.8L1542.25 856.5L1542.5 855.8L1542.75 856.6L1543 855.9L1543.25 850.4L1543.5 836.7L1544 862.7L1544.25 864.5L1544.5 864.8L1544.75 864.6L1545 864L1545.5 859L1546 835.4L1546.5 862.3L1546.75 865.4L1547 866.5L1547.25 863.5L1547.5 856.6L1548 795.8L1548.5 858.9L1548.75 864.3L1549.25 866.9L1550 868.7L1550.5 867.9L1551 866.2L1551.25 866.3L1551.5 866.1L1552 862.4L1552.5 860.9L1553 861.7L1554 848.8L1554.75 842.1L1555 837.1L1555.25 821.8L1555.5 776.2L1555.75 683.7L1556.25 812.4L1556.5 823.3L1556.75 826.7L1557 824.7L1557.25 810.1L1557.5 778.7L1558 824.6L1558.5 832.1L1558.75 832.5L1559 832.4L1559.25 831.8L1559.5 830.4L1559.75 826.1L1560.25 788.5L1560.5 812.4L1560.75 824.1L1561 827.4L1561.25 828.2L1561.5 828L1561.75 828L1562 825.9L1562.5 794L1563 826.4L1563.5 832.9L1564 828.8L1564.25 824.7L1564.5 813.8L1565 701.7L1565.25 776.5L1565.5 812.9L1565.75 822.5L1566 825.3L1566.25 825.4L1566.5 822.5L1567 789.6L1567.5 827.9L1567.75 831L1568.25 832.9L1569 834.6L1569.5 832.3L1570 837.9L1570.25 838L1570.5 837.4L1571.5 811.7L1572.5 778.3L1573.5 735.9L1573.75 719.1L1574.25 570L1574.75 730.5L1575 698.4L1575.25 599.5L1575.5 703.6L1576 729.8L1576.5 678.3L1576.75 480.9L1577 670.8L1577.5 732.3L1578 427.1L1578.5 675L1578.75 699.3L1579 708.7L1579.5 719.4L1580 725L1580.5 722.9L1580.75 722.9L1581 722.6L1581.25 721.5L1581.5 718.8L1581.75 708.3L1582 651L1582.5 720.1L1582.75 560.4L1583 716.4L1583.5 550.6L1584 717.3L1584.5 600.9L1585 723.4L1585.25 441.7L1585.5 601L1585.75 677.4L1586 699.9L1586.5 714.1L1587.5 725L1588 718.9L1588.25 709.1L1588.5 678.3L1588.75 520.9L1589 729.6L1589.5 415.8L1590 728.1L1590.25 637.2L1590.5 697.3L1590.75 722.8L1591.25 688.7L1591.75 729.8L1592.25 722L1592.5 730.5L1592.75 728.2L1593 736.1L1593.25 734.6L1593.5 742.8L1593.75 747L1594 746.4L1594.25 753.6L1594.5 747.9L1594.75 762.4L1595 760.4L1595.25 771.7L1595.5 763.8L1595.75 782.7L1596 782.3L1596.25 791L1596.5 777.8L1596.75 798.5L1597 806.9L1597.25 805.6L1597.5 790.4L1597.75 812.5L1598 811.8L1598.25 817.2L1598.5 800.1L1598.75 820.6L1599 825.2L1600 830.4L1600.5 831.8L1601 831.5L1601.5 833.4L1602 837.3L1602.5 836.7L1603 835L1603.5 837.2L1604 835.6L1604.5 825.4L1604.75 817L1605 796.1L1605.5 585.4L1606 793.3L1606.25 815.5L1606.5 824.9L1606.75 828.2L1607 827.8L1607.25 819.5L1607.75 729.2L1608.25 822.4L1608.5 832.7L1609 839.8L1609.25 840.2L1610 840.3L1610.5 841.3L1611.5 845.7L1612 842.8L1612.75 840.5L1613 838.7L1613.25 832.7L1613.5 819.5L1614 841.6L1614.25 842.7L1614.5 838.6L1614.75 825.6L1615.25 840.9L1615.5 841.7L1615.75 839.2L1616 824.2L1616.25 790.1L1616.5 826.9L1616.75 844.9L1617 850.8L1617.25 852.4L1617.5 852.7L1617.75 852.2L1618 850.2L1618.5 827.9L1619 851.4L1619.5 857.7L1619.75 858.3L1620 857.8L1620.25 854L1620.5 839.8L1620.75 808.6L1621.25 853.3L1621.75 860.9L1622 862.4L1622.25 857.3L1622.5 844L1622.75 859.2L1623 865.9L1623.25 866.8L1623.5 862.7L1623.75 843.2L1624 802.4L1624.5 866.3L1624.75 874L1625.25 880.3L1626.5 888L1627.5 890.7L1628 888.6L1628.5 892.9L1629 894.1L1629.5 890.8L1630 891.4L1630.5 893.7L1631 895.1L1631.5 894.2L1632 895.4L1632.5 894L1632.75 892.1L1633 887.3L1633.25 894L1633.5 897.8L1633.75 899.2L1634 900L1634.5 900.5L1635 901.5L1635.5 901.3L1636 905.8L1636.5 906.7L1637 909.4L1637.5 910.6L1638 910.6L1639 913.7L1639.5 912.7L1640 912.4L1641 913.7L1641.5 912.1L1642 913.5L1642.5 914L1643 913.9L1643.5 914.6L1644 913.5L1645 914L1646 916.5L1646.5 915.4L1647.5 915.6L1648 916.5L1648.5 916.2L1649 915.1L1649.5 916.9L1650 916.9L1650.5 916.4L1651 916.9L1651.5 916.6L1652 917.1L1652.5 917.1L1654 918L1654.5 918L1655 918.4L1656 917.6L1656.5 919L1657 917.8L1657.5 918.9L1658 917.6L1658.5 919L1659 919.7L1660 918.2L1661.25 916.9L1662 915.7L1662.5 915.4L1662.75 914.7L1663.25 910.9L1663.5 904.5L1664 839.2L1664.25 883.5L1664.5 904.7L1664.75 911.6L1665 914.4L1665.25 915.6L1665.5 916.1L1666 916.1L1666.5 916.5L1667 917.6L1667.25 917.4L1667.5 916.7L1667.75 914.2L1668 908.9L1668.25 913.6L1668.75 916.8L1669.5 919L1670 918.8L1670.5 920L1671 920.2L1671.5 918.5L1672 919L1672.5 918.3L1673 919.3L1673.5 919.6L1674 918.9L1674.5 917.8L1675 917.9L1676 918.7L1676.5 918L1677 918.8L1677.5 919L1678 917.6L1678.5 919.4L1679 917.9L1679.75 916.6L1680 914.8L1680.5 919.1L1681 917.7L1681.5 918L1682 918.1L1682.5 918.5L1684 918.5L1684.5 920.9L1685 919.2L1685.5 918.9L1686 920L1686.5 919.2L1687 919.8L1687.5 919.3L1688 919.3L1688.5 918.6L1689 919.4L1689.5 917.9L1690 917.5L1690.5 918.4L1691 918.6L1691.5 920.1L1692.5 917.7L1693 918.6L1693.5 918.5L1694 919.1L1694.5 918.4L1695 918.7L1695.5 918.5L1696 918.7L1696.5 919.2L1697 919.2L1697.5 917.2L1698.5 918.4L1699 919.6L1700 919.2L1700.5 919.2L1701 919.6L1701.5 919.1L1703 920.2L1703.5 918.5L1704 919.4L1704.5 918.2L1705 919.6L1705.5 919.3L1706 919.9L1707 918.4L1708 919.5L1708.5 919L1709 919.3L1709.5 921L1710 919.2L1710.5 920.2L1711 918.6L1711.5 920.2L1712 920.8L1712.5 920.6L1713.5 921.5L1714 919.6L1714.5 920.7L1715 920.7L1715.5 920L1716 920.7L1716.5 919.9L1717 920.5L1717.5 920.7L1718 920.4L1718.5 920.9L1719 920.2L1719.5 921L1720 920.8L1721 920L1721.5 921L1722 920.5L1722.5 921.7L1723 921.1L1723.5 921L1724 920.1L1724.5 921.1L1725 920.6L1725.5 920.4L1726 919.3L1726.5 920L1727 920L1727.5 919.7L1728.5 920L1729 919.1L1729.5 919.5L1730 920.8L1730.5 919.7L1731 921.8L1731.5 919.7L1732 921.2L1732.5 921.4L1733 921.3L1733.5 920.7L1734 919.4L1734.5 920.9L1735 920.9L1735.5 920.2L1736 918.7L1736.5 920.7L1737 919.5L1737.5 919.8L1738 920.9L1738.5 921.1L1739.5 920.6L1740 921.9L1741.5 919.9L1742 920.5L1742.5 919.4L1743 921.5L1743.5 920.8L1744 920.5L1744.5 921.3L1745 920.2L1745.5 920.6L1746.5 919.1L1747.5 921L1748 920.3L1748.5 921L1749 919.9L1749.5 920.8L1750 919.4L1750.5 920.9L1751 921L1751.5 921.3L1752 922.3L1752.5 921.4L1753 921.3L1753.5 921.6L1754.5 919.9L1755 920L1755.5 919.6L1756 920.2L1756.5 920L1757.5 921.5L1758 921.1L1758.5 922L1759 920.9L1759.5 920.5L1760 921.8L1760.5 920.7L1761 921L1761.5 921.7L1762 921.4L1762.5 921.7L1763 920.8L1763.5 920.6L1764 920.7L1764.5 920.2L1765.5 921L1766 922.2L1766.5 922L1767 921.3L1767.5 921.2L1768 920.9L1768.5 922L1769 921.2L1769.5 921.8L1770 921L1770.5 922.6L1771 922L1772 922.1L1772.5 921.5L1773 921.4L1773.5 921.9L1774 920.4L1774.5 921.9L1775.5 920L1776 921.4L1776.5 921.3L1777 922L1777.5 921.8L1778.5 920.9L1779 920L1779.5 921.3L1780 921.4L1780.5 921.1L1781 921.5L1781.5 920.7L1782 921.9L1782.5 921.1L1783 921L1783.5 920.4L1784 921.7L1784.5 921.6L1785 921L1785.5 921.5L1786 920.7L1786.5 921.2L1787 919.6L1787.5 919.9L1788 921.9L1788.5 920.3L1789 921L1789.5 920.8L1790 921L1790.5 922.3L1791 919.6L1791.5 921L1792 920.6L1792.5 920.6L1793 919.9L1793.5 920.1L1794 921.8L1794.5 921.2L1795 919.8L1795.5 920.4L1796 919.9L1796.5 922.5L1797.5 919.2L1798 920.7L1799 920.3L1800 920.4L1800.5 920.9L1801 920L1801.5 922.2L1802 922.8L1802.5 922.1L1803 921.8L1803.5 920.4L1804 921.1L1804.5 920.4L1805 920.1L1805.5 920.9L1806 921.4L1806.5 920.8L1807 922.6L1807.5 921.5L1808 919.2L1809 921.2L1809.5 920.9L1810 921.7L1810.5 920.2L1811 922L1811.5 920.5L1812.5 922.4L1813 921.2L1813.5 921L1814 921.1L1814.5 919.8L1815 919.5L1815.5 920.9L1816 919.8L1816.5 920.1L1817 921.8L1817.5 920.1L1818 921.2L1818.5 921.5L1819.5 919.7L1820 921L1820.5 919.8L1821 921.5L1821.5 921.4L1822 920L1822.5 921.4L1823 920.3L1823.5 920.6L1824.5 920.3L1825 921.1L1825.5 919.7L1826 920.9L1827 920.5L1827.5 921.7L1828 921L1828.5 920.8L1829 921.2L1829.5 921.4L1830 922.2L1830.5 921.4L1831 920.1L1831.5 919.9L1832 920.8L1832.5 920.2L1833 920.2L1833.5 919.5L1834 919.9L1834.5 921.2L1835 919.6L1835.5 921.3L1836 921.1L1836.5 922.1L1837.5 921L1838 921.6L1839 920.5L1839.5 921.6L1840.5 921.6L1841 921.9L1841.5 921.1L1842 921L1843 919.6L1844 921.6L1844.5 921.1L1845 921.9L1845.5 921.6L1846 921.5L1846.5 920.8L1847.5 921.2L1848.5 921.1L1849 920.1L1849.5 920.5L1850 920L1850.5 921L1851 920.9L1851.5 920.1L1852 920.6L1852.5 919.5L1853 921.3L1853.5 920.3L1854.5 921L1855 921.1L1855.5 920.4L1856 921.8L1856.5 922.2L1857.5 921.9L1858 921.2L1858.5 921.8L1859 919.9L1859.5 919.7L1860 920.6L1860.5 920.8L1861 920.5L1861.5 922.1L1862 920.1L1862.5 919.9L1863.5 921.7L1864 920.7L1864.5 920.4L1865 920.3L1867 921.5L1867.5 920.5L1868 921.2L1868.5 919.7L1870 920.9L1870.5 920.1L1871 921.3L1871.5 921.5L1872 920.6L1872.5 920.2L1873 920.1L1873.5 919.7L1874 920.4L1874.5 920.4L1875 921.8L1875.5 920.4L1876 920L1876.5 920.7L1877 921L1878 919.8L1878.5 920.6L1879 920.7L1879.5 919.1L1880 920.9L1880.5 919.2L1881 920.8L1881.5 920.4L1882 920.7L1882.5 921.6L1883.5 922.3L1884.5 920.9L1885 919.4L1885.5 919.9L1886 920L1886.5 919.6L1887 920.6L1887.5 920.4L1888 921.7L1888.5 920.4L1889 919.5L1889.5 919.9L1890 919.4L1891 921.3L1891.5 921.3L1892 921L1892.5 919.8L1893 919.6L1893.5 920.1L1894 920.9L1894.5 920.3L1895 920.3L1895.5 920.6L1896 920.1L1896.5 921L1897 919.4L1897.5 920.4L1898 920L1898.5 920.8L1899.5 919.8L1900 920L1900.5 919.4L1901 919.3L1901.5 920.2L1902 918.9L1903 920.8L1903.5 919.2L1904 920L1904.5 919.5L1905 918.2L1906 920.6L1906.5 919.3L1907 919.8L1907.5 919.7L1908 918.9L1908.5 920.1L1909 919.7L1909.5 919.7L1910 919.4L1910.5 918.6L1911 919.7L1911.5 920.1L1912 919.9L1912.5 920.6L1913 920.7L1913.5 918.9L1914 920.2L1914.5 918.5L1915.5 919.5L1916 918.7L1916.5 918.6L1917 919.6L1917.5 918L1918.5 920.6L1919 920.7L1919.5 919.4L1920 919.2L1921 921.2L1921.5 919.4L1922 918.9L1922.5 918.9L1923 919.5L1923.5 919.8L1924 918.8L1924.5 918.7L1925 919L1926 918.5L1926.5 917.6L1927 918.8L1927.5 918.8L1928 919.4L1928.5 919.5L1929 919L1929.5 919.5L1930 919.8L1930.5 919.9L1931 919.6L1932 920.1L1932.5 919.6L1933 919.9L1933.5 918.2L1934 918.7L1934.5 919.9L1935 919.8L1935.5 918.9L1936 919.4L1936.5 920.5L1937.5 918.3L1938 919.1L1938.5 918.6L1939.5 918.6L1940 919.9L1940.5 920.4L1941.5 917.9L1942 919.3L1942.5 918.5L1943 919.2L1944 919L1944.5 918.3L1945 918.7L1945.5 918.5L1946 918.5L1946.5 919.8L1947 918.5L1947.5 917.7L1948 919.3L1948.5 919.5L1949 917.2L1949.5 918.4L1950 918.2L1950.5 917.5L1951 917.2L1951.5 918L1952 917.5L1952.5 917.7L1953 916.8L1953.5 918.2L1954 917L1954.5 918.5L1955 918.4L1955.5 918L1956 916.6L1957.5 917.2L1958 915.9L1958.5 916L1959.5 917L1960 916.4L1960.5 916.1L1961 915.1L1962 916L1962.5 917L1963 915.6L1963.5 916.2L1964 915L1965 916.2L1965.5 915.8L1967 916.2L1967.5 915.8L1968 914.5L1968.5 915.7L1969.5 914.6L1970 913.8L1971 915.4L1971.5 915.3L1972 913.9L1972.5 915.3L1973 914.2L1973.5 913.8L1974 915L1974.5 913.5L1975 914.4L1975.5 913.5L1976 913.5L1977 913L1978 914.1L1979 913.7L1979.5 913.3L1980 912.3L1980.5 914.1L1981 913.5L1981.5 913.8L1982 912.8L1982.5 912.8L1983 913.7L1983.5 913.4L1984 912L1984.5 912.3L1985 911.7L1985.5 912.2L1986 912.3L1987 910.1L1987.5 911.1L1988 910.3L1988.5 911.4L1989 911.1L1990 912.4L1990.5 910.5L1991 910.3L1991.5 911.5L1992 911.4L1992.5 909.8L1993.5 910.6L1994 911.4L1994.5 909.6L1995 910.2L1995.5 910.4L1996 911.7L1996.5 911.5L1997 910L1997.5 910.7L1998 909.1L1999 908.5L2000 907.7L2000.5 908.4L2001 909.6L2002 909.7L2002.5 907.6L2003 909.7L2003.5 910.8L2005.5 907.1L2006 909.7L2006.5 908.5L2007 906.3L2008 907.6L2008.5 907.4L2009.5 907.9L2010 906.7L2010.5 907L2011 906.6L2011.5 907.1L2012 907L2012.5 905.9L2013 906.7L2013.5 906.6L2014 906.8L2015 907.4L2015.5 904.9L2016 905.2L2016.5 906L2017 905.7L2017.5 904.3L2018 905.2L2018.5 905.1L2019 905.6L2019.5 904.5L2020 905.9L2020.5 902.8L2021 903.7L2021.5 905.3L2022 905.7L2022.5 904.8L2023 904.7L2024 901.5L2025 903.5L2025.5 904.1L2026 904.3L2026.5 905.6L2027 904.7L2027.5 902.1L2028 902.6L2028.5 902.4L2029 900.7L2029.5 900.8L2030 902.5L2030.5 901L2031 900.3L2031.5 903.2L2032 901.3L2032.5 900.5L2033 897.9L2033.5 899.3L2034 899.3L2034.5 899L2035 897.4L2035.5 898.1L2036 900.7L2036.5 900.6L2037 899.5L2037.5 897.7L2038 897.6L2038.5 898.6L2039 897.3L2039.5 897.5L2040 897.1L2040.5 898.6L2041 898L2041.5 895.8L2042 894.3L2042.5 893.6L2043 895L2043.5 894.6L2044 897.1L2044.5 896.3L2045 893.5L2045.5 891.8L2046 880L2046.5 891.7L2046.75 892.9L2047 893.3L2047.25 893.5L2047.5 893.3L2048 885.1L2048.5 892.3L2048.75 892.5L2049.5 892L2050 891L2050.5 888.9L2051 888.6L2051.5 888.7L2052 889.9L2052.5 888L2053.5 890.8L2054 890.3L2055 883.9L2055.5 869.7L2056 881.8L2057 886.5L2057.25 886.4L2057.5 884.5L2058 853.1L2058.25 871.4L2058.5 879.9L2059 887L2059.25 887.5L2059.5 887.6L2059.75 886.9L2060 885.3L2060.5 870.1L2061 888.1L2061.25 888.9L2061.75 888.4L2062.5 886.5L2063 886.9L2063.5 885.4L2064 878.3L2064.25 883.2L2065 890.2L2065.5 890.1L2066 887.7L2066.5 886.7L2067 880.6L2067.25 884.3L2068 888.3L2068.5 887.2L2069 889.5L2069.5 889.7L2070 888.3L2071 884.1L2071.25 884.5L2071.5 884.6L2071.75 882L2072 876L2072.25 865.4L2072.75 879.4L2073 880.4L2073.25 880.6L2073.5 880.6L2074 881.5L2075.25 878.7L2075.5 877L2075.75 871.1L2076 858.6L2076.25 872.4L2076.5 879.6L2076.75 881.7L2077 882.7L2077.5 879.5L2078 877.5L2078.5 869.5L2078.75 873.3L2079.25 875.1L2079.5 875.3L2080 878.1L2080.25 876.9L2080.5 873.9L2081 843L2081.5 876.1L2082 882.3L2082.5 879.4L2082.75 879.1L2083 878.1L2083.5 869.4L2083.75 872.9L2084 873.1L2084.5 864.3L2084.75 853.4L2085 825.4L2085.25 731.1L2085.5 538.1L2085.75 729.7L2086 822.5L2086.25 851.3L2086.5 862.9L2087 873.7L2087.25 873.7L2087.5 869.2L2087.75 875L2088 876.7L2088.25 877.7L2088.5 877.8L2089 880.6L2089.5 881.5L2089.75 881.8L2090 881.8L2090.5 875L2091.5 866.5L2092 867.5L2092.25 866L2092.75 862.1L2093.25 855.7L2093.75 843.9L2094 833.3L2094.75 774.1L2095.25 793.2L2095.5 795.2L2095.75 785.3L2096 762L2096.5 640.7L2097.25 24.2L2097.75 484.9L2098.25 710L2098.5 736.4L2098.75 696L2099 573.7L2099.25 727.1L2099.5 805L2099.75 830.7L2100.25 850.2L2101 862.5L2102 874.8L2102.5 877.1L2103.5 884.4L2104.5 890.2L2105.25 892L2105.5 892.2L2105.75 891.6L2106 889L2106.5 858.9L2106.75 879.5L2107 889.9L2107.25 893.3L2107.5 894.7L2107.75 894.5L2108 893.1L2108.5 879.6L2109 896.2L2109.25 897.5L2109.5 897.8L2110 896.3L2110.25 896.9L2110.5 896.7L2110.75 893.8L2111.25 861.8L2111.75 893.4L2112.25 898.4L2112.5 899.7L2112.75 899.1L2113 896.7L2113.5 868L2113.75 887.5L2114 897.2L2114.25 899.3L2115 900.8L2115.25 900.5L2115.5 899.5L2116 888L2116.5 900.8L2116.75 901.3L2117 901L2117.5 901.6L2118 900.5L2118.5 902.2L2119 902.8L2119.5 902.5L2120 900.1L2120.25 899.9L2120.75 898.7L2121 894.6L2121.25 884L2121.75 898.9L2122 900.7L2123 904.3L2124 899.8L2124.25 899.5L2124.5 898.3L2125 881.5L2125.25 892.6L2125.5 897.8L2125.75 899.8L2126 900.8L2126.25 900.7L2126.75 900L2127 899.2L2127.5 892.3L2128 898.9L2128.5 900.2L2129 900.1L2129.5 901.9L2130 898.1L2131 893.4L2131.75 888.9L2133 875.7L2133.5 861.1L2133.75 844.9L2134 805.7L2134.5 416.7L2135 802.3L2135.25 839.4L2135.5 853.4L2136 863.5L2136.25 864.3L2136.5 863.9L2137.25 850L2137.5 842.1L2138.5 748.4L2139.25 813.6L2139.5 818.2L2139.75 808.5L2140.25 772.5L2140.75 798L2141 802.5L2141.25 792.8L2142 720.6L2143 832L2143.5 855.4L2144 866.2L2144.25 868.1L2144.75 869.5L2145 869.3L2145.5 865.3L2145.75 861.2L2146 853.5L2146.75 808.5L2147.25 837.8L2147.75 854.7L2148 854.8L2148.5 840.5L2149 835.7L2149.5 806.6L2150 746.3L2150.25 732.5L2151.5 854.9L2152.25 881.5L2152.75 888.9L2153.5 895.3L2154.25 898.6L2154.75 899.6L2155 898.8L2155.5 878.9L2156 901.6L2156.5 906.9L2157 907.1L2157.5 909.4L2158 908L2159 912.3L2159.25 912.3L2159.5 912L2160 908.6L2160.5 912.3L2161 912.7L2161.5 914.3L2162.5 915.4L2163.25 914.1L2163.5 913.6L2164 911.4L2164.5 910.7L2166 905.1L2166.5 904.8L2167 903.2L2167.5 902.7L2169 896.8L2169.5 893.6L2169.75 893.6L2170 892.2L2170.5 871.6L2170.75 884.6L2171 890.2L2171.25 891.7L2171.5 891.7L2171.75 891.4L2172 890.3L2172.25 888.2L2172.5 879.1L2172.75 858.8L2173 879.4L2173.25 888.5L2173.5 890.8L2173.75 891.4L2174 891.5L2174.5 890.9L2174.75 891.3L2175 891.4L2175.25 890.4L2175.75 872.8L2176.25 894.2L2176.5 896.6L2177 898L2177.25 897.5L2177.75 895.2L2178.25 889.8L2178.5 882.7L2178.75 864.9L2179 818.6L2179.5 342L2180 823.4L2180.25 870.6L2180.5 889.1L2181 905.2L2181.5 912L2183 917.3L2183.5 918.5L2184 917.7L2184.5 919.1L2185 918.5L2185.5 918.1L2186 919.7L2186.5 919L2187 919.3L2187.5 919.3L2188 920.7L2189 921.1L2189.5 922.3L2190.5 921L2191.5 921.8L2192 922.6L2192.5 920.9L2193 922.8L2193.25 923.1L2193.5 923.1L2194 918.5L2194.5 888.7L2195 919.7L2195.25 922.3L2196 924.8L2196.5 924.3L2196.75 923L2197.25 912L2197.75 922.9L2198 924.5L2198.5 925.2L2199.5 924.4L2200 925.8L2200.5 925L2201 926.2L2201.5 924.8L2202 925.2L2202.5 924.7L2203 925.1L2203.5 925.2L2204 923.6L2204.5 924.4L2205.5 924.6L2206 925.2L2206.5 926.2L2207 925.1L2207.5 925.9L2208 925.2L2209 924.3L2209.5 924.9L2210 924.8L2211 926.6L2211.5 926.1L2212 926.3L2212.5 925.4L2213 926.2L2213.5 925.1L2214 924.8L2214.5 925.4L2215 925L2215.5 925.9L2217 925.6L2217.5 926.1L2218.5 925.9L2219 926.5L2219.5 925.4L2220 924.9L2221.5 925L2222 925.5L2222.5 926.5L2223 925L2224 925.3L2224.5 925.1L2225 925.1L2225.5 925.9L2226 926L2226.5 924.7L2227.5 925.1L2228.5 924.1L2229 924.3L2230 923.8L2230.5 924.7L2231 923.9L2231.5 923.8L2232 924L2232.5 922.7L2233 923.6L2233.5 923L2234 923.2L2234.5 924.4L2235 924.4L2236 924.1L2236.5 922.6L2237 922.8L2237.5 921.8L2238 921.8L2238.5 922.4L2239 921.9L2240 921.9L2240.5 921.5L2241 922.6L2241.5 921.2L2242 921.9L2242.5 921L2243 920.6L2243.5 921.8L2244 920L2244.5 920.2L2245 918.9L2245.5 918.6L2246 919.4L2247 917.1L2248.5 917.4L2250 916.3L2250.5 916.1L2251 916.2L2251.5 913.5L2252 915L2252.5 913.6L2253.5 912.8"/>
<path class="a" d="M1197.3 971.5999999999999 L1197.3 953.8 L2256.9 953.8 L2256.9 971.5999999999999M1329.8 953.8L1329.8 961.8M1462.2 953.8L1462.2 971.5999999999999M1594.7 953.8L1594.7 961.8M1727.1 953.8L1727.1 971.5999999999999M1859.5 953.8L1859.5 961.8M1992.0 953.8L1992.0 971.5999999999999M2124.5 953.8L2124.5 961.8"/>
<text class="t" transform="matrix(1 0 0 1.04 1197.3 1019.2)">200</text>
<text class="t" transform="matrix(1 0 0 1.04 1462.2 1019.2)">150</text>
<text class="t" transform="matrix(1 0 0 1.04 1727.1 1019.2)">100</text>
<text class="t" transform="matrix(1 0 0 1.04 1992.0 1019.2)">50</text>
<text class="t" transform="matrix(1 0 0 1.04 2256.9 1019.2)">0</text>
<text class="p" x="1728.0" y="1068.8">ppm</text>
<text class="l" transform="matrix(1 0 0 1.04 1775.8 502.5)">GO</text>
</g>
<clipPath id="c2"><rect x="0" y="1100" width="1144" height="1000"/></clipPath>
<g>
<path class="s" clip-path="url(#c2)" d="M60 1963.1L60.5 1962.7L61.5 1960.1L62 1962.1L62.5 1962.5L63 1961.5L63.5 1962.7L64 1961.4L64.5 1962.7L65 1962.9L65.5 1962L66 1964.7L66.5 1961.3L67 1960L67.5 1962L68 1959.9L68.5 1961.9L69 1962.6L69.5 1961.2L70 1961.5L70.5 1960.8L71 1962.1L71.5 1961L72 1964.1L73 1962L73.5 1960.4L74 1964.5L75 1962.4L75.5 1962.1L76 1962.3L76.5 1961.5L77 1964.2L78 1959.2L78.5 1960L79 1957.6L79.5 1961.8L80 1962.2L80.5 1963.6L81 1964.1L81.5 1960.5L82 1962.3L82.5 1963.5L83 1963.6L83.5 1962.2L84 1963.7L84.5 1963L85 1963.8L85.5 1961.9L86.5 1961.2L87 1961.2L87.5 1960.3L88 1960.6L88.5 1961.6L89 1961.7L89.5 1962.8L90 1962.5L90.5 1961.8L91 1959.5L91.5 1961.6L92 1962.3L92.5 1959.4L93 1959.9L93.5 1960L94 1959.8L94.5 1960.7L95 1960L95.5 1961.9L96 1959.9L96.5 1961.2L97.5 1960.1L98 1962.6L98.5 1961.2L99 1961.7L99.5 1960.8L100 1962.5L100.5 1962.8L101 1961.9L101.5 1959.6L102 1962.4L103 1960.8L104.5 1960.7L105 1959.3L105.5 1960.6L106 1961.2L106.5 1959.9L107 1959.3L107.5 1963L108 1961.9L108.5 1961.3L109 1961.4L109.5 1958.6L110.5 1961.3L111 1963.2L111.5 1959L112 1960.6L112.5 1963.9L113 1962.6L113.5 1962.8L114 1964.3L114.5 1963L115 1962.7L115.5 1963L116 1962.3L116.5 1959.3L117 1962.4L117.5 1958.3L118 1959.8L118.5 1964.7L119 1960.1L119.5 1961.3L120 1959L120.5 1960L121 1960.1L121.5 1961.1L122.5 1964.3L123 1963.3L123.5 1964.3L124 1961.9L124.5 1964.3L125 1962.8L125.5 1963.4L126 1961L126.5 1961.5L127 1963.7L128 1962.1L128.5 1960.9L130 1962.9L130.5 1961.7L131.5 1962.7L132 1960.2L132.5 1962.5L133 1961.4L133.5 1961.7L134 1959.2L134.5 1960.4L135 1961L135.5 1961.2L136 1960.2L136.5 1961.8L137.5 1960.9L138 1958.6L138.5 1962.9L139 1961L139.5 1962.3L140 1961L141 1963.1L141.5 1962.8L142 1963.7L142.5 1962L143 1964.4L143.5 1959.4L144.5 1963.4L145 1962.3L145.5 1962.3L146 1960.6L146.5 1964.2L147 1960.1L147.5 1962.8L148 1962.2L149 1964.3L149.5 1962L150 1962.1L150.5 1962.5L151 1960.3L151.5 1963L152 1961.2L152.5 1961.8L153 1960.3L153.5 1961.8L154 1961.2L154.5 1961.9L155 1960.5L155.5 1962.8L156.5 1957.4L157 1961.3L157.5 1960.5L158 1960.3L158.5 1965.1L159 1962.3L159.5 1960.9L160.5 1962.8L161 1961.5L161.5 1962.9L162 1962.4L162.5 1960.1L163.5 1962.5L164 1961.6L164.5 1961.6L165 1963.1L165.5 1962.3L166 1959.9L166.5 1960.9L167.5 1961.4L168 1960.5L168.5 1962.8L169 1959.6L169.5 1959.1L170 1960.6L170.5 1957.7L171.5 1962.2L172 1959.7L172.5 1960.1L173 1962.3L174 1960.9L174.5 1961L175 1959.7L175.5 1960.8L176 1960.3L176.5 1963.9L177 1961.7L177.5 1960.7L178 1961.2L178.5 1961.3L179 1959.4L179.5 1960L180 1963.2L180.5 1959.9L181 1961L181.5 1962.9L182 1963.2L182.5 1960.1L183 1963.6L183.5 1961.6L184 1964.1L184.5 1962.5L185 1961.6L185.5 1962.9L186 1962.7L186.5 1960.9L187 1964.4L187.5 1961L188 1962.8L189 1959L190.5 1961.6L191 1963.2L191.5 1961.6L192 1961.7L192.5 1960.8L193 1962.3L193.5 1962.5L194 1959.2L194.5 1963.5L195 1963.3L195.5 1964.7L196 1960.7L196.5 1962L197 1961.9L197.5 1960.2L198 1960.8L198.5 1960.7L199 1962.4L199.5 1962L200 1963L200.5 1960.7L201 1959.5L201.5 1962L202 1962.2L203 1963.5L203.5 1961L204 1962.3L204.5 1959.7L205.5 1962L206 1961.3L206.5 1962.1L207 1960.1L208 1961.4L208.5 1959L209 1958.9L209.5 1962.7L210 1959.9L210.5 1958.5L211 1958.3L211.5 1961.4L212 1956.1L212.5 1959.3L213 1960.8L213.5 1959.9L214 1961.8L214.5 1960.1L215 1961.3L216 1960.4L216.5 1960.4L217 1960.6L217.5 1962.3L218 1960.8L218.5 1960.3L219 1960.5L219.5 1960.1L220 1958.3L220.5 1957.4L221 1957.7L221.5 1959.5L222 1958.4L222.5 1959.1L223 1963.8L224 1961.4L224.5 1961.2L225 1963.6L225.5 1960.6L226 1962.8L226.5 1961.7L227 1962.3L227.5 1959.3L228 1960.8L228.5 1957.2L229.5 1961.5L230 1961.4L230.5 1958.2L231 1961.3L231.5 1961.1L232.5 1959.9L233 1960.6L233.5 1960.2L234 1962L234.5 1961.3L235 1961.9L235.5 1961.6L236 1959.4L237 1963.7L237.5 1959.2L238 1960.6L238.5 1959.1L239 1959L239.5 1960.4L240 1961.3L240.5 1960.9L241 1960L241.5 1960.1L242 1956.7L242.5 1959.9L243 1959.7L243.5 1959.1L244 1959.2L244.5 1958.2L245 1961L245.5 1958.8L246 1958.2L246.5 1960.3L247 1959.8L247.5 1960.6L248 1962.7L248.5 1960.7L249 1960.9L249.5 1963.4L250 1958.7L250.5 1961L252 1964.1L252.5 1960.6L253 1962.1L253.5 1960.8L255 1958.3L255.5 1960.8L256 1961.4L256.5 1959L257 1961L257.5 1959.2L258 1958.7L258.5 1956.8L259 1961.4L259.5 1960.7L260 1959.4L260.5 1959.7L261 1958.9L261.5 1961.5L262 1961.1L262.5 1962.1L263 1961.9L263.5 1960L264 1959.7L264.5 1962L265 1959.1L265.5 1961.3L266 1962L266.5 1959.1L267 1961.4L267.5 1960.4L268 1960.6L268.5 1959.1L269.5 1960.7L270 1962.5L270.5 1961.1L271 1960.6L271.5 1958.3L272 1960.5L272.5 1959.6L273 1960.5L273.5 1960.8L274 1961.4L275.5 1959.2L276 1960.7L276.5 1957.9L277 1959.2L277.5 1961.3L278 1959.6L278.5 1961.1L279 1961.1L279.5 1962.2L280 1961L280.5 1957.4L281 1959.5L281.5 1960L282 1960.8L282.5 1960.4L283 1962.4L283.5 1961.5L284 1958.7L284.5 1959.5L285 1957.6L285.5 1962.2L286 1959.5L286.5 1959.3L287 1957.6L287.5 1959.4L288 1960.5L288.5 1959L289.5 1957.3L290 1959.8L290.25 1957.7L290.75 1952.9L291 1948.3L291.5 1910.1L292 1949L292.5 1954.9L293 1955.8L293.5 1955L294 1956.2L294.5 1956.2L295 1950.3L295.5 1956.4L295.75 1956.6L296 1956.6L296.5 1952.6L297.5 1955.6L298 1956.2L298.5 1957.2L299 1952.7L299.5 1953.3L299.75 1953.2L300 1952.5L300.5 1955.5L301 1953.5L301.5 1955.1L302 1955.3L302.5 1956.1L303 1953.6L303.5 1955.5L304 1955.6L304.5 1955.2L305 1957.6L305.5 1956L306 1958.5L306.5 1956.2L307 1959.4L307.5 1959.6L308 1956.3L308.5 1957.3L309 1956.6L309.5 1954.9L310 1957.2L310.5 1957.1L311 1955.5L312 1958.3L313 1955.9L313.5 1958.3L314 1954.5L315 1957.3L315.5 1957.2L316 1954.3L316.5 1956.3L317 1956.5L317.5 1956.3L318 1957.1L319 1955.7L319.5 1956.3L320 1957.4L320.5 1957.7L321 1953.7L321.5 1958.2L322 1954.8L322.5 1956.2L323 1946.4L323.5 1954.7L323.75 1954.9L324 1954.6L324.5 1957.6L325 1957.1L325.5 1955.4L326 1955.2L326.5 1956.3L327 1955.2L327.5 1956.1L328 1956L328.5 1957.7L329 1956.4L329.5 1954.3L329.75 1954.9L330 1955.1L330.5 1948.1L331 1956.2L331.5 1954.9L332.5 1958.8L333 1955.6L333.5 1954.8L334 1955.2L334.25 1954L334.75 1947.4L335 1952L335.25 1953.6L335.5 1953.9L336 1954.1L336.5 1956.9L337 1955.7L337.5 1955.1L338 1955.8L338.5 1956L339 1956.8L340 1957.5L340.5 1953.2L341 1953.8L341.5 1951.5L342 1954.1L342.5 1954.8L344 1952.1L344.5 1949L344.75 1946.3L345 1934.1L345.25 1907.2L345.5 1935.9L345.75 1947.6L346.5 1955.6L347.5 1951.8L348 1954.3L348.5 1954.8L349 1954L349.5 1952.4L350 1954.3L350.5 1951.7L351 1953.1L351.5 1953L352.5 1948.6L353 1948.6L353.5 1950L354 1950.8L354.5 1947.4L355 1947.8L355.5 1950.1L356 1945.1L356.5 1946.6L357 1945L357.5 1945L358 1941.1L358.5 1942L359 1939L359.25 1939.5L359.5 1939.2L359.75 1932.5L360 1916.1L360.25 1887.5L360.75 1930.3L361.25 1936.6L361.5 1938.2L362 1935.7L362.5 1936.2L362.75 1935.8L363 1934.7L364 1938.3L364.5 1937.5L365 1937.7L365.5 1935.7L366 1937.5L367 1931.8L367.25 1926.7L367.75 1880.4L368.25 1927.1L368.5 1931.7L369 1935.7L369.5 1934.7L370 1932L370.5 1925L371 1931.6L371.5 1928.7L372 1932.4L372.5 1929.3L372.75 1929.6L373 1929.6L373.5 1925.4L373.75 1927.7L374 1928.4L374.5 1926.7L375 1928.2L375.5 1931.2L376 1930.4L376.5 1930.3L377 1927.8L377.5 1927.7L378 1929.9L378.5 1928.7L379 1918.8L379.25 1907.6L379.75 1802.7L380.25 1907.6L380.5 1919.9L380.75 1922.2L381 1922.3L381.5 1926.4L381.75 1926.7L382.25 1926.3L382.5 1924.1L382.75 1924.7L383 1923.4L383.25 1923.9L383.5 1924L384 1926.5L384.5 1925.8L384.75 1926.3L385 1926.3L385.5 1919.8L385.75 1923.3L386 1924.4L386.5 1920.4L387 1922.4L387.5 1921.4L388 1924.6L388.75 1918.4L389 1914.1L389.5 1920.6L390 1921.6L390.5 1923.8L391 1918.4L392 1916.2L392.5 1909.6L392.75 1903.1L393.25 1824.9L393.75 1903.9L394 1912L394.25 1914.1L394.75 1914.9L395 1914.9L395.5 1914.4L396.25 1911.3L396.5 1909.3L397 1885.1L397.25 1900.9L397.5 1909L397.75 1910.2L398 1909.9L398.25 1910.9L398.5 1911.2L398.75 1909.2L399 1903.9L399.25 1907.8L399.5 1908.3L400 1912.5L400.5 1909L400.75 1905.7L401 1898.2L401.5 1911.8L401.75 1912.3L402 1912.1L402.5 1906L403 1910.3L403.25 1910.6L403.5 1910.4L403.75 1909.2L404 1905.1L404.25 1909.2L404.75 1911.4L405 1911.9L405.5 1915.6L406 1915L406.25 1913.6L406.75 1910.3L407 1906.5L408 1919.1L408.5 1915.2L409 1915.9L409.5 1913.3L410 1913.4L410.5 1912.5L410.75 1911.8L411 1908.9L411.5 1872.4L411.75 1894.2L412 1903.4L412.25 1905.9L412.75 1906.4L413 1905.4L413.25 1902.9L413.5 1894.8L413.75 1906.1L414 1911.5L414.25 1911.3L415 1905.9L415.5 1898.1L416 1893.4L416.25 1887.8L416.75 1866.4L417 1841.5L417.5 1874.6L417.75 1875.7L418 1874L418.25 1868.3L418.5 1852.5L418.75 1796.1L419 1682L419.5 1844.4L419.75 1859.2L420 1863.4L420.25 1863.9L420.5 1858.9L421 1792.3L421.5 1863.9L422 1875.7L422.25 1877.1L422.5 1877.6L423.25 1867L423.5 1856.3L423.75 1818.1L424 1739.5L424.25 1819.4L424.5 1859L424.75 1871.9L425 1877.9L425.25 1879.6L425.75 1880.9L426 1881.1L427.25 1874.9L427.5 1872.4L427.75 1866.6L428 1850.9L428.5 1685.4L428.75 1796.5L429 1850.5L429.25 1866.3L429.5 1872L429.75 1872.4L430.25 1865.6L430.75 1804.4L431.25 1867.7L431.5 1873.9L431.75 1874.7L432 1872.7L432.5 1847.3L433 1880L433.25 1880.9L433.5 1878.4L435 1832.6L436.75 1748.2L437 1719.5L437.25 1634.8L437.5 1467.1L438 1757.5L438.25 1620.1L438.75 1761.3L439.25 1637.9L439.5 1767.6L439.75 1632.1L440 1724.1L440.5 1762.5L441 1545L441.5 1772.4L442 1613.1L442.5 1773.6L442.75 1648.9L443 1753.8L443.5 1612.2L444 1745.1L444.5 1512.7L444.75 1725.3L445 1604.9L445.5 1727.3L445.75 1570.3L446 1707.2L446.5 1440.5L447 1721L447.25 1566.2L447.5 1710.4L447.75 1679.3L448 1600.4L448.5 1728.1L449 1434.3L449.25 1749.9L449.5 1576.2L450 1764.2L450.5 1636L450.75 1778L451 1601.9L451.5 1778.1L451.75 1574.5L452 1788.9L452.5 1677.7L453 1806L453.5 1701.2L453.75 1805.8L454 1669.3L454.5 1820.5L455 1771.6L455.25 1720.3L455.75 1823L456 1795.6L456.25 1728.4L456.5 1829.2L457 1606.6L457.25 1737L457.5 1800.9L457.75 1820.2L458.25 1831L458.5 1828.5L458.75 1809.4L459 1763.5L459.5 1840.9L459.75 1848.9L460 1848.5L460.5 1789.4L461 1853.7L461.5 1864.4L461.75 1865.6L462 1864.3L462.5 1835.1L463 1873.6L463.25 1876.6L463.5 1877.7L464 1874.3L464.5 1876.4L465 1876.4L465.5 1872.4L465.75 1871.6L466 1868.6L466.5 1833.5L467 1871.8L467.25 1874.7L467.5 1875.2L468.25 1868.8L468.75 1852.4L469.25 1720.4L469.5 1812.1L469.75 1855.6L470 1868.1L470.25 1873.5L470.5 1875.6L470.75 1872.8L471 1866L471.5 1811.4L472 1869.6L472.25 1876.4L472.75 1882.2L473 1884.1L473.25 1884.3L473.5 1884L474 1876.7L474.25 1869.3L474.5 1853.8L475 1720.2L475.5 1854.3L475.75 1867.1L476 1871.4L476.25 1872L476.5 1868.6L477 1827.6L477.5 1879.1L477.75 1883.8L478 1885.6L478.75 1882L479 1877.1L479.25 1855.5L479.5 1811.8L480 1875.4L480.25 1881.8L480.5 1883.4L480.75 1878.9L481.25 1830.6L481.75 1878.3L482 1885L482.25 1883.6L482.5 1874.1L482.75 1835.7L483 1755.7L483.5 1873.7L484 1892.9L484.25 1895.2L484.5 1895.5L484.75 1892.1L485.25 1842.4L485.75 1892.2L486.25 1899.6L486.5 1901L486.75 1899.7L487 1893.2L487.25 1868.5L487.5 1814.8L488 1899.4L488.25 1907.1L489 1915.1L489.5 1918.3L490 1918.4L491 1928.9L492 1933.3L492.5 1934.2L493 1932.2L494 1939.5L494.5 1940.4L495 1938.2L495.5 1939.9L496 1942.7L496.5 1943L497.5 1939.9L498 1940.9L498.5 1943.9L499 1944.7L499.5 1941.7L500 1945L500.5 1946.6L501 1946.9L501.5 1945.6L502 1950.1L502.5 1949.3L503 1946.3L503.5 1947.3L504 1949.3L504.5 1949.1L505 1949.1L506 1950.4L506.5 1950.6L507 1950.7L507.5 1952.4L508.25 1940.3L508.5 1947.8L509 1954L509.5 1952.1L510 1952L510.5 1955.7L511.5 1951.3L512 1950.4L512.5 1951.5L513.5 1952.4L514 1951.9L514.5 1953.7L515 1952.4L515.5 1950.5L516 1951L516.5 1953.2L517 1952.4L517.5 1950.9L518 1957L519 1953.4L519.5 1953.1L520.5 1954.7L521 1951.6L521.5 1952.4L522 1951.5L522.5 1953.3L523.5 1951L524 1953.3L524.5 1952.9L525 1953.7L525.5 1950.8L525.75 1951.3L526 1951.2L526.5 1937.9L527 1854L527.5 1937.6L528 1952L528.25 1952.6L528.5 1952.4L528.75 1952.6L529 1951.9L529.5 1940.9L529.75 1947.8L530 1950.3L531 1955.8L531.5 1949.6L531.75 1948.2L532 1943.6L532.25 1927.1L532.5 1892.2L532.75 1928.4L533 1946.4L533.25 1950.2L534 1953.5L534.5 1952.4L535 1953.4L535.5 1955.2L536 1954.4L536.5 1954.1L537 1954.4L537.5 1954.2L538 1954.5L539 1952.6L539.5 1955.3L540 1952.9L540.5 1956.1L541 1958L541.5 1957.4L542 1958.6L542.5 1954L543 1955.4L543.5 1953.8L544 1953.7L544.75 1951.5L545 1949.4L545.5 1955.6L545.75 1955.7L546 1955.6L546.5 1956L547.5 1955.2L548 1952.9L548.5 1953.6L549.5 1956.5L550 1954.8L550.5 1954.5L551 1954.4L551.5 1956.6L552 1955.4L552.5 1955L553 1954.1L553.5 1954.8L554 1952L554.5 1954L555 1953.7L555.5 1953.8L556 1955.4L556.5 1955.9L557 1959.1L557.5 1955.4L558 1955.9L559 1952.2L559.5 1955.4L560 1956L560.5 1951.8L561 1953L561.5 1955L562 1954.2L562.5 1951.4L563 1955.7L563.5 1954.5L564 1955.9L564.5 1953.3L565 1955.1L565.5 1955.5L566 1954.2L566.5 1956.3L567 1954.7L567.5 1955L568 1954.4L568.5 1954.8L569 1954.1L569.5 1956.2L570 1954.6L570.5 1953.7L571 1957L571.5 1956.3L572 1956.9L572.5 1955.2L573 1955.9L574 1953.2L574.5 1954.3L575.5 1955.1L576 1955.9L576.5 1953.1L577 1956.4L577.5 1955.2L578 1955.9L578.5 1957.2L579 1957.1L579.5 1955.9L580 1957.5L580.5 1956.4L581 1957.6L581.5 1957.6L582 1955.1L582.5 1953.8L583 1954.6L583.5 1955L584 1954.7L584.5 1953.5L585 1953.6L585.5 1954.7L586 1954.5L586.5 1956.3L587 1956L587.5 1957.5L588 1956.5L588.5 1958.9L589 1957.1L589.5 1958.2L590 1957.1L590.5 1958L591 1958.5L591.5 1957.7L592 1958.3L592.5 1956L593.5 1959.1L594 1957.7L594.5 1958L595 1958.7L595.5 1958.4L596 1958.7L596.5 1959.6L597 1957.9L598 1956.2L598.5 1955.8L599 1960.5L599.5 1957.4L600 1958.7L600.5 1958.3L601 1959.6L601.5 1959.2L602 1960.1L602.5 1961.8L603 1959L603.5 1960.3L604 1959.2L604.5 1960L605 1958L605.5 1959.3L606 1957.6L606.5 1956.6L607.5 1958.3L608 1958.2L608.5 1959.2L609 1960.8L609.5 1957.6L610 1959.3L610.5 1958.7L611 1957.5L611.5 1957L612 1958.5L612.5 1958.5L613 1957.5L614 1958.7L614.5 1957.2L615 1958.9L615.5 1959.4L616 1961.5L616.5 1958.1L617.5 1960L618 1958.9L619 1958.4L619.5 1957.6L620.5 1959.2L621 1957L621.5 1960L622 1956.2L622.5 1960.7L623 1959.3L623.5 1956.9L624 1958.9L624.5 1957.4L625 1957.8L625.5 1957.6L626 1956.7L626.5 1956.5L627 1957.7L627.5 1957.2L628 1957.2L628.5 1956.7L629 1955.8L629.5 1959.8L630 1958.5L630.5 1955.8L631 1958.6L631.5 1959.1L632 1956.2L632.5 1957.7L633 1958.3L633.5 1960.2L634 1959.1L634.5 1959.3L635 1958.4L635.5 1959.4L636 1956.7L636.5 1958.9L637 1958.9L637.5 1956.3L638.5 1959.5L639 1959.9L639.5 1959.7L640 1957.8L640.5 1959.1L641 1958.7L641.5 1960.8L642 1958.1L643 1956.5L643.5 1959.1L644 1959.8L644.5 1958.9L645 1959L645.5 1959.8L646 1961.6L646.5 1957.8L647 1959.1L648 1959.8L648.5 1961L649 1960.5L649.5 1959.7L650 1961L650.5 1960.4L651 1959.2L651.5 1959L652 1957.1L652.5 1958.9L653 1958L653.5 1957.8L654 1958.9L654.5 1956.9L655 1957.5L655.5 1957.4L656 1958.1L656.5 1957.5L657.5 1960.7L658 1960.2L658.5 1958.3L659 1958.1L659.5 1959.3L660 1959.1L660.5 1957.6L661 1957.7L661.5 1957.5L662 1958.6L662.5 1960.8L663 1961.1L663.5 1957.7L664 1958.3L664.5 1956.9L665 1956.4L665.5 1958.3L666 1958.3L666.5 1957.3L667 1958.5L667.5 1957.3L668 1959.5L668.5 1957.8L669 1959.5L669.5 1957.9L670 1957.9L670.5 1958.3L671 1955.8L672 1957.6L672.5 1957.6L673 1958.1L673.5 1956.5L674 1955.7L674.5 1957.2L675 1957.9L675.5 1956.8L676 1959.4L676.5 1958.6L677.5 1958.7L678 1956.6L678.5 1960.4L679 1957.2L679.5 1959L680 1959.8L680.5 1959.7L681 1959.8L681.5 1958.5L682.5 1960L683 1961.9L683.5 1959.7L684 1961.3L685.5 1958.4L686 1958.9L686.5 1957.2L687 1959.9L687.5 1960.3L688 1959L688.5 1960.2L689 1959.7L689.5 1957.9L690 1959.7L690.5 1958.3L691 1962.2L691.5 1958.1L692 1958.1L692.5 1957.9L693.5 1959.5L694 1958.2L694.5 1957.8L695 1961L695.5 1960.4L696 1959.3L696.5 1959.5L697 1957.4L698 1961.1L698.5 1957.5L699 1957.5L699.5 1959.9L700 1957L700.5 1961.9L701 1958.6L701.5 1959.6L702 1959.8L702.5 1961.1L703 1959.6L703.5 1956.3L704 1956.6L704.5 1959.1L705 1956.3L705.5 1958.7L706 1958.2L706.5 1960.2L707 1960.6L707.5 1956.2L708 1959.9L708.5 1959.9L709 1958L709.5 1958.2L710 1957.8L711.5 1962.3L712 1962.1L712.5 1959.5L713 1958.4L713.5 1960.2L714 1955.3L714.5 1957L715.5 1962L716 1958.3L716.5 1959.4L717 1958.1L717.5 1959.5L718 1959.4L718.5 1958.6L719 1960.1L719.5 1959.3L720 1960.2L720.5 1959.6L721 1958.6L721.5 1960.3L722 1961.3L722.5 1958.9L723 1961L724 1957.8L724.5 1958.3L725.5 1956.6L726 1958.8L726.5 1959.1L727 1957.6L727.5 1958L728 1957.8L729 1960.2L729.5 1957.7L730 1958.8L730.5 1957.9L731 1958.5L731.5 1959.5L732 1956.6L732.5 1955.5L733 1958.2L733.5 1956.6L734 1960.4L734.5 1957.5L735.5 1958.3L736 1958.3L736.5 1957.7L737 1958L737.5 1958.9L738 1957L738.5 1959.7L739 1958L739.5 1954.6L740 1958.9L740.5 1955.8L741.5 1960.9L742 1959.5L742.5 1956.8L743 1957.1L743.5 1958.1L744 1959.8L744.5 1957.2L745 1959.5L745.5 1958.2L746 1957.7L746.5 1957.7L747 1959.9L747.5 1955.9L748 1956.3L748.5 1959L749 1959.9L749.5 1957.5L750 1957.9L750.5 1957.2L751 1958.9L751.5 1957L752 1959.6L753 1958.2L753.5 1958.3L754.5 1960.1L755 1959.2L756 1960L756.5 1958.6L757 1959.7L758 1956.9L758.5 1957.7L759 1959.3L759.5 1959.1L760 1955.6L760.5 1958.1L761 1957L762 1956.6L762.5 1956.6L763 1956.1L763.5 1956.3L764 1957.2L764.5 1955.6L765.5 1956.1L766 1956.1L766.5 1958.3L767 1956.1L767.5 1957.3L768 1957.5L768.5 1958.3L769 1957.4L769.5 1958.8L770 1957.2L770.5 1957.1L771 1957.6L771.5 1954.6L772.5 1958L773 1956.7L773.5 1956.6L774 1959.6L774.5 1957.4L775 1958.7L775.5 1953.9L776 1957L776.5 1956.3L777.5 1958.7L778 1956.8L778.5 1956.2L779 1952.7L779.5 1957L780 1957.6L780.5 1955.7L781 1954.6L782 1957L782.5 1956.9L783 1959.2L783.5 1956.2L784 1955.3L784.5 1957.7L785 1958.6L785.5 1956.3L786 1956.5L787 1953.8L787.5 1954.6L788 1953.4L788.5 1956.4L789.5 1957.4L790 1955.2L790.5 1955.2L791 1953.5L791.5 1953.6L792.5 1958.8L793 1954.4L794 1957.2L794.5 1954.9L795 1956.1L795.5 1954.8L796 1954.6L796.5 1955.8L797.5 1953L798 1955.7L798.5 1955.1L799.5 1954.7L800 1956.4L800.5 1955.3L801.5 1957.7L802 1956.8L802.5 1958.7L803 1955.1L803.5 1957.3L804 1957L804.5 1958.8L805 1956.8L805.5 1958.1L806.5 1955.2L807.5 1954.5L808 1956.1L808.5 1954.4L809.5 1955.9L810 1956.2L810.5 1955.6L811 1956.5L811.5 1953.7L812 1954.6L813 1955.4L813.5 1954.8L814 1953.4L814.5 1954.8L815 1953.4L815.5 1956.7L816 1953.5L816.5 1955.5L817 1956.1L817.5 1955.8L818 1953L818.5 1955.5L819 1954.7L819.5 1954.8L820 1957.1L821 1953L821.5 1953.9L822 1956.2L822.5 1955.8L823 1953.9L823.5 1952.8L824 1953.8L824.5 1953.9L825 1956L825.5 1954.7L826 1956.4L826.5 1956.8L827 1953.7L827.5 1955L828 1957L828.5 1954.3L829 1954.7L829.5 1956.1L830 1954.1L830.5 1954.7L831 1952.6L831.5 1954.6L832 1953L832.5 1953.4L833 1951.3L833.5 1956L834 1955.6L834.5 1953.9L835 1956.7L835.5 1952L836 1955.1L836.5 1952.4L837 1957.1L837.5 1950.1L838 1952L838.5 1952.7L839 1954.4L839.5 1954.2L840.5 1952L841 1955.5L841.5 1952.2L842.5 1955.1L843 1951.5L843.5 1952.3L844 1954.9L844.5 1954.4L845 1952.2L845.5 1953.4L846 1955.4L846.5 1952.1L847 1952.8L847.5 1951.6L848 1951L848.5 1954.5L849 1953.8L849.5 1953.6L850 1951.6L850.5 1951.8L851.5 1952L852 1950.6L852.5 1950.7L853 1953.1L853.5 1949.8L854 1950.3L855 1950.5L855.5 1949.5L856 1949.4L856.5 1951.4L857 1950.2L857.5 1950.3L858 1953.5L858.5 1949.8L859 1952.4L860 1948.3L860.5 1949.5L861 1949.3L861.5 1951L863.5 1946.5L864 1948.2L864.5 1947.1L865 1948.2L865.5 1947.3L866.5 1948.5L867 1947.6L867.5 1948.3L868 1947.2L868.5 1949L869 1948.9L869.5 1949.4L870 1948.9L870.5 1946.3L871 1946.3L871.5 1949.4L872 1949.8L872.5 1947.2L873 1949.5L873.5 1947.9L874 1947.8L874.5 1949L875 1947.3L875.5 1946.6L876 1948.3L876.5 1948L877 1949.2L877.5 1949.3L878 1945.9L878.5 1947.6L879 1947.8L879.5 1943.1L880 1945.6L881 1944.5L881.5 1947.8L882 1947.9L882.5 1945.9L883 1946.2L883.5 1949.2L884 1948.7L884.5 1946.6L885 1947.8L886 1947.3L886.5 1947.9L887 1946L887.5 1947L888 1945.3L888.5 1944.3L889 1944.6L889.5 1946.3L890 1947L891 1946.3L891.5 1948.8L892 1947.5L893.5 1949.5L894 1948.9L894.5 1948.5L895 1948.9L896 1944.1L896.5 1945.6L897 1942.8L897.5 1943.4L898 1944.8L898.5 1944.7L899 1943.6L899.5 1945.9L900.5 1943L901.5 1941.7L902 1940.2L902.5 1942.1L903.5 1944.5L904 1943.6L904.5 1945L905 1943.1L905.5 1943.7L906 1945.4L906.5 1942.8L907 1942.9L908.75 1935.6L909.25 1928.5L909.5 1934.1L909.75 1936.6L910 1937.3L910.5 1935.5L911 1936.7L911.5 1933.1L912 1937.4L912.5 1934.7L913 1936L913.5 1935L914 1937.1L914.5 1934.6L915 1934.7L915.5 1935.2L916 1933.3L916.5 1932.9L917 1935.2L917.5 1934.1L918.5 1935.4L919 1931.9L919.5 1933.2L920.25 1930.1L920.5 1927.8L921 1903.5L921.5 1926.8L921.75 1928.6L922 1928.8L922.25 1927.6L922.5 1924.6L922.75 1914.7L923 1895.4L923.5 1923.3L924 1932.3L924.5 1931.5L925 1933.3L925.5 1932.4L926 1932.1L926.5 1928L927.5 1928.9L928.5 1935.6L929 1935.4L929.5 1930.9L930 1933.6L930.5 1927.9L931 1933.4L931.5 1932.4L932 1929.9L932.5 1929.4L933.5 1929.2L934 1933.3L934.5 1933.1L935.25 1930.7L935.75 1920.9L936 1929.2L936.25 1931.6L936.75 1931.7L937 1931.5L937.5 1930L938 1929L938.5 1928.7L938.75 1927.8L939.25 1922.2L939.5 1913.2L940 1926.7L940.25 1927.2L940.5 1926.7L941 1923.1L941.5 1925.7L942 1919.3L942.25 1922.1L943 1926.8L943.25 1926.1L943.75 1921.9L944.25 1896.3L944.5 1915L944.75 1921.9L945 1922.8L945.25 1922.6L945.5 1921.9L945.75 1922.1L946 1921.8L946.25 1920.6L946.5 1917.7L947 1925L947.5 1921.5L948 1908.2L948.25 1890.2L948.75 1704.8L949 1832.3L949.25 1896.4L949.5 1917.6L949.75 1923.5L950 1924.5L950.5 1905.3L951 1924.9L951.25 1925.9L951.5 1925.6L951.75 1925.7L952 1925.6L952.5 1929.2L953 1930.5L953.5 1930.7L954 1929.8L954.5 1921.4L955 1917.7L955.5 1916.1L956 1912.4L956.75 1903.7L957.25 1891.1L957.5 1878.3L958 1837.3L958.5 1854.1L958.75 1856.8L959 1849.1L959.25 1827.1L959.75 1714L960.5 1146.6L961.25 1711.6L961.75 1823.6L962 1843.8L962.25 1846.2L962.5 1811.3L962.75 1725L963 1826.3L963.25 1875.5L963.5 1891.6L963.75 1899.1L965 1917.5L965.5 1919.6L966.5 1929.9L966.75 1931.2L967 1932.5L967.5 1931.9L968 1936.8L968.25 1937.3L968.5 1937.5L968.75 1936.8L969 1934.6L969.25 1926.8L969.5 1910.4L970 1935.2L970.5 1940.6L970.75 1940.7L971 1940.4L971.5 1938.1L972 1928L972.5 1939.6L972.75 1940L973.25 1939.1L973.75 1935L974.25 1906.6L974.75 1937.6L975 1940.2L975.5 1942.9L976 1941.1L976.25 1938.2L976.75 1915.5L977 1929.5L977.25 1937.8L977.5 1941.1L978 1945.2L978.5 1942.2L979.5 1944.6L980 1946.9L981 1944.1L981.5 1944.7L982 1944.6L982.5 1944L983 1944L983.25 1944.3L983.5 1944.3L983.75 1942.5L984 1937.7L984.25 1929.1L984.75 1941.6L985 1942.8L985.5 1941.9L986.5 1945.5L987 1945.2L987.5 1941.2L988 1924.1L988.5 1939.3L989 1942.6L989.5 1943.4L989.75 1943.2L990 1942.5L990.5 1935.1L991 1942.7L991.25 1942.8L991.5 1942.4L992 1943.2L992.5 1945L993 1944.6L993.5 1943.7L994 1938.7L994.5 1938.8L995.75 1928L996 1925.2L996.25 1918.3L996.5 1906L996.75 1877.9L997.25 1606.4L997.75 1876.3L998 1903.9L998.25 1913.2L998.5 1917.1L998.75 1918.9L999 1919.4L999.75 1913.6L1000 1909.6L1000.75 1875.4L1001.5 1904.6L1001.75 1906.4L1002 1903.7L1002.25 1897.3L1002.75 1876.5L1003.25 1890.7L1003.5 1895L1003.75 1894.9L1004 1888.9L1004.75 1849.9L1005.5 1894.3L1006 1912.1L1006.5 1919.1L1007.5 1923.3L1008.5 1921.6L1009 1919.4L1010 1897.4L1010.75 1906.9L1011 1905.8L1011.5 1894.3L1012 1891.4L1012.25 1886.7L1013 1854.5L1014 1904.9L1014.25 1912.6L1015 1926.8L1015.5 1930.3L1015.75 1930.3L1016 1930.1L1016.5 1931.5L1017 1930.6L1017.75 1933.8L1018 1934.1L1018.5 1920.2L1018.75 1929.7L1019.5 1940.3L1020 1941.8L1020.5 1942.4L1021 1944.5L1021.5 1941.6L1022 1948L1022.5 1951.8L1023 1950.4L1023.5 1947.3L1024 1951L1024.5 1953.2L1025.5 1950.4L1026 1951.2L1027 1951.8L1027.5 1952.4L1028 1950.1L1028.5 1944.7L1029 1945.6L1029.5 1944.8L1030 1945.3L1030.5 1940.9L1031 1939.3L1031.5 1939.3L1032 1939L1032.5 1936.1L1033 1938.7L1033.5 1935.7L1034 1936.4L1034.25 1935.9L1034.5 1934.9L1035.75 1924.3L1036.5 1926L1036.75 1927.7L1037.25 1929.6L1037.5 1929.7L1038.5 1923.3L1039.5 1932.4L1040 1934.2L1040.5 1930.1L1041 1935.4L1041.5 1937.1L1042 1932L1042.25 1926.8L1042.5 1915.3L1042.75 1884.4L1043.25 1568.3L1043.75 1885L1044 1917.3L1044.25 1930.2L1044.75 1940.7L1045.5 1947L1046 1948.1L1047 1952.1L1047.5 1953.2L1048 1952.8L1048.5 1954L1049 1952.8L1049.5 1949.1L1050 1949.2L1050.5 1951.6L1051 1951.1L1051.5 1953.9L1052 1952.1L1052.5 1953.5L1053 1953.3L1053.5 1952.8L1054 1953L1054.5 1953.6L1055 1953.7L1055.5 1952.9L1056 1953.4L1056.5 1953.1L1057 1949.2L1057.5 1927.1L1057.75 1942.3L1058 1949.9L1058.25 1952.2L1058.5 1953.2L1059 1953.5L1059.5 1954.5L1060 1957.2L1060.5 1947L1060.75 1952.5L1061.25 1956.4L1061.5 1957.4L1062 1958.3L1062.5 1959.7L1063 1960.3L1063.5 1957.5L1064 1961.9L1064.5 1958.6L1065 1960L1066 1957.9L1066.5 1957.8L1067 1962.4L1067.5 1961.7L1068 1958.4L1068.5 1958L1069 1960.8L1069.5 1957.6L1070.5 1962L1071 1961L1071.5 1962.4L1072 1961.2L1072.5 1958.9L1073 1959.9L1073.5 1958.8L1074 1961.4L1074.5 1959.3L1075 1960.7L1075.5 1959.7L1076 1959.2L1076.5 1960.6L1077 1959.7L1077.5 1959.7L1078 1962.3L1078.5 1961.6L1079 1960.3L1079.5 1963.6L1080 1960.1L1080.5 1961.7L1081 1961.9L1082 1960.1L1082.5 1960.7L1083 1960.4L1083.5 1959.3L1084 1961.6L1084.5 1959.8L1085 1959.8L1085.5 1962.7L1086 1960.1L1086.5 1959L1087 1960.4L1088 1960L1088.5 1962.3L1089 1959.1L1089.5 1961.4L1090 1960.9L1090.5 1961.6L1091 1959.7L1091.5 1959.3L1092 1959.3L1092.5 1959.9L1093.5 1961.7L1094 1957.5L1094.5 1960.9L1095 1959.9L1095.5 1959.5L1096 1958.4L1096.5 1960.2L1097 1957.4L1097.5 1961L1098 1958.1L1098.5 1959.1L1099 1959L1099.5 1959.7L1100 1956.6L1100.5 1958.5L1101 1957.4L1101.5 1958.6L1102 1957.1L1102.5 1956.8L1103 1954.7L1104 1960.2L1104.5 1957.7L1105 1957.5L1105.5 1957.6L1106 1958.3L1106.5 1954.3L1107 1957.4L1107.5 1955L1108 1954.7L1108.5 1953L1109 1954.7L1109.5 1951.6L1110 1953.8L1110.5 1953.1L1111 1950.8L1112 1951.4L1112.5 1949.2L1113 1948.4L1113.5 1949L1114 1948.5L1114.5 1948.4L1115 1949L1115.5 1947.5L1116 1948.9L1116.25 1948.7"/>
<path class="a" d="M60.0 2024.3999999999999 L60.0 2006.6 L1119.2 2006.6 L1119.2 2024.3999999999999M192.4 2006.6L192.4 2014.6M324.8 2006.6L324.8 2024.3999999999999M457.2 2006.6L457.2 2014.6M589.6 2006.6L589.6 2024.3999999999999M722.0 2006.6L722.0 2014.6M854.4 2006.6L854.4 2024.3999999999999M986.8 2006.6L986.8 2014.6"/>
<text class="t" transform="matrix(1 0 0 1.04 60.0 2072.3)">200</text>
<text class="t" transform="matrix(1 0 0 1.04 324.8 2072.3)">150</text>
<text class="t" transform="matrix(1 0 0 1.04 589.6 2072.3)">100</text>
<text class="t" transform="matrix(1 0 0 1.04 854.4 2072.3)">50</text>
<text class="t" transform="matrix(1 0 0 1.04 1119.2 2072.3)">0</text>
<text class="p" x="589.1" y="2119.4">ppm</text>
<text class="l" transform="matrix(1 0 0 1.04 537.5 1534.0)">CT+GO</text>
</g>
<clipPath id="c3"><rect x="1144" y="1100" width="1144" height="1000"/></clipPath>
<g>
<path class="s" clip-path="url(#c3)" d="M1197.25 1962.7L1197.75 1962.3L1198.75 1959.7L1199.25 1961.7L1199.75 1962.1L1200.25 1961.1L1200.75 1962.3L1201.25 1961L1201.75 1962.3L1202.25 1962.5L1202.75 1961.6L1203.25 1964.3L1203.75 1960.9L1204.25 1959.6L1204.75 1961.6L1205.25 1959.5L1205.75 1961.5L1206.25 1962.2L1206.75 1960.8L1207.25 1961.1L1207.75 1960.4L1208.25 1961.7L1208.75 1960.6L1209.25 1963.7L1210.25 1961.6L1210.75 1960L1211.25 1964.1L1212.25 1962L1212.75 1961.7L1213.25 1961.9L1213.75 1961.1L1214.25 1963.8L1215.25 1958.8L1215.75 1959.6L1216.25 1957.2L1216.75 1961.4L1217.25 1961.8L1217.75 1963.2L1218.25 1963.7L1218.75 1960.1L1219.25 1961.9L1219.75 1963.1L1220.25 1963.2L1220.75 1961.8L1221.25 1963.3L1221.75 1962.6L1222.25 1963.4L1222.75 1961.5L1223.75 1960.8L1224.25 1960.8L1224.75 1959.9L1225.25 1960.2L1225.75 1961.2L1226.25 1961.3L1226.75 1962.4L1227.25 1962.1L1227.75 1961.4L1228.25 1959.1L1228.75 1961.2L1229.25 1961.9L1229.75 1959L1230.25 1959.5L1230.75 1959.6L1231.25 1959.4L1231.75 1960.3L1232.25 1959.6L1232.75 1961.5L1233.25 1959.5L1233.75 1960.8L1234.75 1959.7L1235.25 1962.2L1235.75 1960.8L1236.25 1961.3L1236.75 1960.4L1237.25 1962.1L1237.75 1962.4L1238.25 1961.5L1238.75 1959.2L1239.25 1962L1240.25 1960.4L1241.75 1960.3L1242.25 1958.9L1242.75 1960.2L1243.25 1960.8L1243.75 1959.5L1244.25 1958.9L1244.75 1962.6L1245.25 1961.5L1245.75 1960.9L1246.25 1961L1246.75 1958.2L1247.75 1960.9L1248.25 1962.8L1248.75 1958.6L1249.25 1960.2L1249.75 1963.5L1250.25 1962.2L1250.75 1962.4L1251.25 1963.9L1251.75 1962.6L1252.25 1962.3L1252.75 1962.6L1253.25 1961.9L1253.75 1958.9L1254.25 1962L1254.75 1957.9L1255.25 1959.4L1255.75 1964.3L1256.25 1959.7L1256.75 1960.9L1257.25 1958.6L1257.75 1959.6L1258.25 1959.7L1258.75 1960.7L1259.75 1963.9L1260.25 1962.9L1260.75 1963.9L1261.25 1961.5L1261.75 1963.9L1262.25 1962.4L1262.75 1963L1263.25 1960.6L1263.75 1961.1L1264.25 1963.3L1265.25 1961.7L1265.75 1960.5L1267.25 1962.5L1267.75 1961.3L1268.75 1962.3L1269.25 1959.8L1269.75 1962L1270.25 1961L1270.75 1961.3L1271.25 1958.8L1271.75 1960L1272.25 1960.6L1272.75 1960.8L1273.25 1959.8L1273.75 1961.4L1274.75 1960.5L1275.25 1958.2L1275.75 1962.5L1276.25 1960.6L1276.75 1961.9L1277.25 1960.6L1278.25 1962.7L1278.75 1962.4L1279.25 1963.3L1279.75 1961.6L1280.25 1964L1280.75 1959L1281.75 1963L1282.25 1961.9L1282.75 1961.9L1283.25 1960.2L1283.75 1963.8L1284.25 1959.7L1284.75 1962.4L1285.25 1961.8L1286.25 1963.9L1286.75 1961.6L1287.25 1961.7L1287.75 1962.1L1288.25 1959.9L1288.75 1962.6L1289.25 1960.8L1289.75 1961.4L1290.25 1959.9L1290.75 1961.4L1291.25 1960.8L1291.75 1961.5L1292.25 1960.1L1292.75 1962.4L1293.75 1957L1294.25 1960.9L1294.75 1960.1L1295.25 1959.9L1295.75 1964.7L1296.25 1961.9L1296.75 1960.5L1297.75 1962.4L1298.25 1961.1L1298.75 1962.5L1299.25 1962L1299.75 1959.7L1300.75 1962.1L1301.25 1961.1L1301.75 1961.2L1302.25 1962.7L1302.75 1961.9L1303.25 1959.4L1303.75 1960.5L1304.75 1961L1305.25 1960.1L1305.75 1962.4L1306.25 1959.2L1306.75 1958.7L1307.25 1960.2L1307.75 1957.3L1308.75 1961.8L1309.25 1959.3L1309.75 1959.7L1310.25 1961.9L1311.25 1960.5L1311.75 1960.6L1312.25 1959.3L1312.75 1960.4L1313.25 1959.9L1313.75 1963.5L1314.25 1961.3L1314.75 1960.3L1315.25 1960.8L1315.75 1960.9L1316.25 1959L1316.75 1959.6L1317.25 1962.8L1317.75 1959.5L1318.25 1960.6L1318.75 1962.5L1319.25 1962.8L1319.75 1959.7L1320.25 1963.2L1320.75 1961.2L1321.25 1963.7L1321.75 1962.1L1322.25 1961.2L1322.75 1962.5L1323.25 1962.3L1323.75 1960.5L1324.25 1964L1324.75 1960.6L1325.25 1962.4L1326.25 1958.6L1327.75 1961.2L1328.25 1962.8L1328.75 1961.2L1329.25 1961.3L1329.75 1960.4L1330.25 1961.9L1330.75 1962.1L1331.25 1958.8L1331.75 1963.1L1332.25 1962.9L1332.75 1964.3L1333.25 1960.3L1333.75 1961.6L1334.25 1961.5L1334.75 1959.8L1335.25 1960.4L1335.75 1960.3L1336.25 1962L1336.75 1961.6L1337.25 1962.6L1337.75 1960.3L1338.25 1959.1L1338.75 1961.6L1339.25 1961.8L1340.25 1963.1L1340.75 1960.6L1341.25 1961.9L1341.75 1959.3L1342.75 1961.6L1343.25 1960.9L1343.75 1961.7L1344.25 1959.7L1345.25 1961L1345.75 1958.6L1346.25 1958.5L1346.75 1962.3L1347.25 1959.5L1347.75 1958.1L1348.25 1957.9L1348.75 1961L1349.25 1955.7L1349.75 1958.9L1350.25 1960.4L1350.75 1959.5L1351.25 1961.4L1351.75 1959.7L1352.25 1960.9L1353.25 1960L1353.75 1960L1354.25 1960.2L1354.75 1961.9L1355.25 1960.4L1355.75 1959.9L1356.25 1960L1356.75 1959.7L1357.25 1957.9L1357.75 1956.9L1358.25 1957.3L1358.75 1959.1L1359.25 1958L1359.75 1958.7L1360.25 1963.4L1361.25 1961L1361.75 1960.8L1362.25 1963.2L1362.75 1960.2L1363.25 1962.4L1363.75 1961.3L1364.25 1961.9L1364.75 1958.8L1365.25 1960.4L1365.75 1956.8L1366.75 1961.1L1367.25 1961L1367.75 1957.8L1368.25 1960.9L1368.75 1960.7L1369.75 1959.5L1370.25 1960.2L1370.75 1959.8L1371.25 1961.6L1371.75 1960.9L1372.25 1961.5L1372.75 1961.2L1373.25 1959L1374.25 1963.3L1374.75 1958.8L1375.25 1960.2L1375.75 1958.7L1376.25 1958.6L1376.75 1960L1377.25 1960.9L1377.75 1960.5L1378.25 1959.6L1378.75 1959.7L1379.25 1956.3L1379.75 1959.5L1380.25 1959.3L1380.75 1958.7L1381.25 1958.8L1381.75 1957.8L1382.25 1960.6L1382.75 1958.4L1383.25 1957.8L1383.75 1959.9L1384.25 1959.4L1384.75 1960.2L1385.25 1962.3L1385.75 1960.3L1386.25 1960.5L1386.75 1963L1387.25 1958.3L1387.75 1960.6L1389.25 1963.7L1389.75 1960.2L1390.25 1961.7L1390.75 1960.4L1392.25 1957.9L1392.75 1960.4L1393.25 1961L1393.75 1958.6L1394.25 1960.6L1394.75 1958.8L1395.25 1958.3L1395.75 1956.4L1396.25 1961L1396.75 1960.3L1397.25 1959L1397.75 1959.3L1398.25 1958.5L1398.75 1961.1L1399.25 1960.6L1399.75 1961.7L1400.25 1961.5L1400.75 1959.6L1401.25 1959.3L1401.75 1961.6L1402.25 1958.7L1402.75 1960.9L1403.25 1961.6L1403.75 1958.7L1404.25 1961L1404.75 1959.9L1405.25 1960.2L1405.75 1958.7L1406.75 1960.3L1407.25 1962.1L1407.75 1960.7L1408.25 1960.2L1408.75 1957.9L1409.25 1960.1L1409.75 1959.2L1410.25 1960.1L1410.75 1960.4L1411.25 1961L1412.75 1958.8L1413.25 1960.3L1413.75 1957.5L1414.25 1958.8L1414.75 1960.9L1415.25 1959.2L1415.75 1960.7L1416.25 1960.7L1416.75 1961.8L1417.25 1960.6L1417.75 1957L1418.25 1959.1L1418.75 1959.6L1419.25 1960.4L1419.75 1959.9L1420.25 1962L1420.75 1961.1L1421.25 1958.3L1421.75 1959L1422.25 1957.2L1422.75 1961.8L1423.25 1959.1L1423.75 1958.9L1424.25 1957.2L1424.75 1959L1425.25 1960L1425.75 1958.5L1426.75 1956.7L1427.25 1959L1428 1948.6L1428.5 1909.3L1429 1948.6L1429.5 1954.2L1429.75 1955.2L1430 1955.5L1430.25 1955.7L1430.75 1954.7L1431.25 1955.8L1431.75 1955.8L1432.25 1949.9L1432.75 1956L1433 1956.2L1433.25 1956.2L1433.75 1952.2L1434.75 1955.2L1435.25 1955.8L1435.75 1956.8L1436.25 1952.3L1436.75 1952.9L1437 1952.8L1437.25 1952.1L1437.75 1955.1L1438.25 1953.1L1438.75 1954.7L1439.25 1954.9L1439.75 1955.7L1440.25 1953.2L1440.75 1955.1L1441.25 1955.2L1441.75 1954.8L1442.25 1957.2L1442.75 1955.6L1443.25 1958.1L1443.75 1955.8L1444.25 1959L1444.75 1959.2L1445.25 1955.9L1445.75 1956.9L1446.25 1956.2L1446.75 1954.5L1447.25 1956.8L1447.75 1956.6L1448.25 1955.1L1449.25 1957.9L1450.25 1955.5L1450.75 1957.9L1451.25 1954.1L1452.25 1956.9L1452.75 1956.8L1453.25 1953.9L1453.75 1955.9L1454.25 1956.1L1454.75 1955.9L1455.25 1956.7L1456.25 1955.3L1456.75 1955.9L1457.25 1957L1457.75 1957.3L1458.25 1953.3L1458.75 1957.8L1459.25 1954.4L1459.75 1955.8L1460.25 1946L1460.75 1954.3L1461 1954.5L1461.25 1954.2L1461.75 1957.2L1462.25 1956.7L1462.75 1955L1463.25 1954.8L1463.75 1955.9L1464.25 1954.7L1464.75 1955.7L1465.25 1955.6L1465.75 1957.3L1466.25 1956L1466.75 1953.9L1467 1954.5L1467.25 1954.7L1467.75 1947.7L1468.25 1955.8L1468.75 1954.5L1469.75 1958.3L1470.25 1955.2L1470.75 1954.4L1471.25 1954.8L1471.5 1953.6L1472 1947L1472.25 1951.5L1472.5 1953.2L1472.75 1953.5L1473.25 1953.7L1473.75 1956.5L1474.25 1955.3L1474.75 1954.7L1475.25 1955.4L1475.75 1955.5L1476.25 1956.3L1477.25 1957.1L1477.75 1952.8L1478.25 1953.4L1478.75 1951.1L1479.25 1953.6L1479.75 1954.4L1481.25 1951.7L1481.75 1948.6L1482 1945.9L1482.25 1933.7L1482.5 1906.8L1482.75 1935.5L1483 1947.1L1483.75 1955.2L1484.75 1951.4L1485.25 1953.8L1485.75 1954.3L1486.25 1953.6L1486.75 1952L1487.25 1953.9L1487.75 1951.2L1488.25 1952.6L1488.75 1952.5L1489.75 1948.1L1490.25 1948.1L1490.75 1949.6L1491.25 1950.4L1491.75 1947L1492.25 1947.3L1492.75 1949.6L1493.25 1944.6L1493.75 1946.2L1494.25 1944.5L1494.75 1944.5L1495.25 1940.6L1495.75 1941.5L1496.25 1938.6L1496.5 1939.1L1496.75 1938.7L1497 1932.1L1497.25 1915.6L1497.5 1887.1L1498 1929.9L1498.5 1936.2L1498.75 1937.8L1499.25 1935.3L1499.75 1935.7L1500 1935.4L1500.25 1934.3L1501.25 1937.9L1501.75 1937L1502.25 1937.3L1502.75 1935.3L1503.25 1937.1L1504.25 1931.3L1504.5 1926.3L1505 1880L1505.5 1926.7L1505.75 1931.3L1506.25 1935.3L1506.75 1934.3L1507.25 1931.6L1507.75 1924.6L1508.25 1931.2L1508.75 1928.3L1509.25 1931.9L1509.75 1928.9L1510 1929.1L1510.25 1929.1L1510.75 1925L1511 1927.3L1511.25 1928L1511.75 1926.3L1512.25 1927.7L1512.75 1930.7L1513.25 1929.9L1513.75 1929.9L1514.25 1927.3L1514.75 1927.2L1515.25 1929.5L1515.75 1928.3L1516.25 1918.3L1516.5 1907.2L1517 1802.3L1517.5 1907.2L1517.75 1919.5L1518 1921.7L1518.25 1921.9L1518.75 1925.9L1519 1926.3L1519.5 1925.9L1519.75 1923.7L1520 1924.3L1520.25 1923L1520.5 1923.4L1520.75 1923.6L1521.25 1926L1521.75 1925.4L1522 1925.8L1522.25 1925.9L1522.75 1919.4L1523 1922.9L1523.25 1924L1523.75 1920L1524.25 1922L1524.75 1921L1525.25 1924.2L1526 1918L1526.25 1913.7L1526.75 1920.1L1527.25 1921.1L1527.75 1923.3L1528.25 1917.9L1529.25 1915.7L1529.75 1909.1L1530 1902.6L1530.5 1824.5L1531 1903.4L1531.25 1911.5L1531.5 1913.6L1532 1914.5L1532.25 1914.5L1532.75 1913.9L1533.5 1910.8L1533.75 1908.8L1534.25 1884.7L1534.5 1900.5L1534.75 1908.5L1535 1909.7L1535.25 1909.4L1535.5 1910.5L1535.75 1910.8L1536 1908.8L1536.25 1903.5L1536.5 1907.4L1536.75 1907.9L1537.25 1912.1L1537.75 1908.5L1538 1905.3L1538.25 1897.8L1538.75 1911.4L1539 1911.9L1539.25 1911.7L1539.75 1905.6L1540.25 1909.9L1540.5 1910.2L1540.75 1910L1541 1908.8L1541.25 1904.7L1541.5 1908.8L1542 1911L1542.25 1911.4L1542.75 1915.2L1543.25 1914.5L1543.5 1913.1L1544 1909.9L1544.25 1906.1L1545.25 1918.7L1545.75 1914.7L1546.25 1915.5L1546.75 1912.9L1547.25 1913L1547.75 1912.1L1548 1911.3L1548.25 1908.4L1548.75 1872L1549 1893.7L1549.25 1903L1549.5 1905.4L1550 1905.9L1550.25 1904.9L1550.5 1902.4L1550.75 1894.4L1551.25 1910.9L1551.5 1910.5L1552 1907.1L1553.25 1892.4L1553.5 1886.8L1554 1865.7L1554.25 1841.1L1554.75 1874L1555 1875.1L1555.25 1873.5L1555.5 1867.9L1555.75 1852.1L1556.25 1681.6L1556.75 1843.9L1557 1858.7L1557.25 1862.9L1557.5 1863.4L1557.75 1858.4L1558.25 1791.9L1558.75 1863.4L1559.25 1875.2L1559.5 1876.6L1559.75 1877.1L1560.5 1866.5L1560.75 1855.8L1561 1817.6L1561.25 1739.1L1561.5 1818.9L1561.75 1858.5L1562 1871.4L1562.25 1877.4L1562.5 1879.1L1563 1880.3L1563.25 1880.5L1564.5 1874.4L1564.75 1871.8L1565 1866L1565.25 1850.4L1565.75 1685L1566 1796L1566.25 1849.9L1566.5 1865.7L1566.75 1871.4L1567 1871.8L1567.5 1865.1L1568 1804L1568.5 1867.1L1568.75 1873.3L1569 1874.1L1569.25 1872.1L1569.75 1846.9L1570.25 1879.4L1570.5 1880L1571 1871.1L1572.25 1830.2L1574.25 1742.2L1574.5 1713.7L1574.75 1631.8L1575 1465.2L1575.25 1757.1L1575.5 1618.9L1576 1761L1576.5 1637.9L1576.75 1767.3L1577 1631L1577.5 1761.7L1578 1544.5L1578.25 1771.5L1578.5 1615.5L1579 1774.3L1579.5 1651.4L1579.75 1706.6L1580.25 1752.8L1580.75 1644.9L1581 1514L1581.25 1743.8L1581.5 1605.5L1582 1724.1L1582.25 1603.9L1582.5 1729.8L1583 1569.3L1583.25 1706.3L1583.5 1429.6L1584 1719.6L1584.5 1565.2L1584.75 1573.5L1585 1714.4L1585.25 1300.9L1585.5 1142.8L1585.75 1728.7L1586 1504.7L1586.5 1750.6L1586.75 1580.2L1587 1760.2L1587.5 1637.1L1588 1778.2L1588.25 1605.9L1588.5 1775.5L1589 1574.1L1589.5 1791.7L1589.75 1680.9L1590.25 1806.1L1590.75 1700.8L1591 1805.9L1591.25 1672.5L1591.5 1774L1592 1822.7L1592.5 1719.9L1593 1823L1593.5 1731.6L1594 1831.4L1594.25 1606.2L1594.75 1800.2L1595 1819.4L1595.25 1826.6L1595.5 1830.4L1595.75 1827.9L1596 1808.9L1596.25 1763.1L1596.5 1815.1L1596.75 1840.3L1597 1848.3L1597.25 1847.9L1597.5 1829.4L1597.75 1789L1598.25 1853.1L1598.75 1863.7L1599 1864.9L1599.25 1863.6L1599.75 1834.7L1600.25 1872.8L1600.5 1875.8L1600.75 1876.8L1601.25 1873.3L1601.75 1875.4L1602.25 1875.3L1602.75 1871.3L1603 1870.4L1603.25 1867.4L1603.75 1833.1L1604.25 1869.7L1604.5 1872L1604.75 1871.7L1605 1869L1605.5 1859.5L1605.75 1848.3L1606 1821.1L1606.5 1530.2L1607 1824.3L1607.25 1852.6L1607.75 1869.5L1608 1868.4L1608.25 1862.8L1608.75 1811L1609 1849.3L1609.25 1868L1609.5 1874.8L1610 1880.6L1610.25 1882.4L1610.5 1882.4L1610.75 1881.6L1611.25 1870.6L1611.5 1855.3L1611.75 1809.6L1612 1720L1612.5 1853.4L1612.75 1866.9L1613 1871.7L1613.25 1873.3L1613.5 1872.7L1613.75 1868.8L1614.25 1827.2L1614.75 1878.4L1615 1883L1615.25 1884.5L1615.75 1880L1616 1875.3L1616.25 1855.9L1616.5 1812.4L1616.75 1854.3L1617 1875.2L1617.25 1881.3L1617.5 1883.9L1617.75 1884.2L1618 1879.1L1618.5 1830.2L1619 1878L1619.25 1884.7L1619.5 1883.3L1619.75 1873.8L1620 1835.3L1620.25 1755.3L1620.75 1873.3L1621.25 1892.6L1621.5 1894.8L1621.75 1895.1L1622 1891.7L1622.5 1842L1623 1891.9L1623.5 1899.4L1623.75 1900.7L1624 1899.5L1624.25 1893L1624.5 1868.1L1624.75 1814.4L1625.25 1899.1L1625.5 1906.8L1626.25 1914.8L1626.75 1918.1L1627.25 1918.1L1628.25 1928.6L1629.25 1933L1629.75 1933.9L1630.25 1931.9L1631.25 1939.1L1631.75 1940L1632.25 1937.9L1632.75 1939.6L1633.25 1942.4L1633.75 1942.6L1634.75 1939.5L1635.25 1940.6L1635.75 1943.6L1636.25 1944.3L1636.75 1941.3L1637.25 1944.6L1637.75 1946.2L1638.25 1946.5L1638.75 1945.2L1639.25 1949.7L1639.75 1948.9L1640.25 1945.9L1640.75 1946.9L1641.25 1948.9L1641.75 1948.7L1642.25 1948.7L1643.25 1950L1643.75 1950.2L1644.25 1950.3L1644.75 1952L1645.5 1939.9L1645.75 1947.4L1646.25 1953.6L1646.75 1951.7L1647.25 1951.6L1647.75 1955.3L1648.75 1950.9L1649.25 1950L1649.75 1951.1L1650.75 1952L1651.25 1951.5L1651.75 1953.2L1652.25 1952L1652.75 1950L1653.25 1950.6L1653.75 1952.8L1654.25 1952L1654.75 1950.5L1655.25 1956.5L1656.25 1953L1656.75 1952.7L1657.75 1954.3L1658.25 1951.1L1658.75 1951.9L1659.25 1951L1659.75 1952.9L1660.75 1950.6L1661.25 1952.8L1661.75 1952.5L1662.25 1953.2L1662.75 1950.4L1663 1950.9L1663.25 1950.8L1663.75 1937.5L1664.25 1853.6L1664.75 1937.2L1665.25 1951.6L1665.5 1952.2L1665.75 1952L1666 1952.2L1666.25 1951.5L1666.75 1940.5L1667 1947.4L1667.25 1949.9L1668.25 1955.4L1668.75 1949.2L1669 1947.8L1669.25 1943.2L1669.5 1926.7L1669.75 1891.8L1670 1928L1670.25 1946L1670.5 1949.8L1671.25 1953.1L1671.75 1952L1672.25 1953L1672.75 1954.8L1673.25 1953.9L1673.75 1953.7L1674.25 1954L1674.75 1953.8L1675.25 1954.1L1676.25 1952.2L1676.75 1954.9L1677.25 1952.5L1677.75 1955.7L1678.25 1957.6L1678.75 1957L1679.25 1958.2L1679.75 1953.6L1680.25 1955L1680.75 1953.4L1681.25 1953.3L1682 1951.1L1682.25 1949L1682.75 1955.2L1683 1955.3L1683.25 1955.2L1683.75 1955.6L1684.75 1954.7L1685.25 1952.5L1685.75 1953.2L1686.75 1956.1L1687.25 1954.4L1687.75 1954.1L1688.25 1954L1688.75 1956.2L1689.25 1955L1689.75 1954.6L1690.25 1953.7L1690.75 1954.4L1691.25 1951.6L1691.75 1953.6L1692.25 1953.3L1692.75 1953.4L1693.25 1955L1693.75 1955.5L1694.25 1958.7L1694.75 1955L1695.25 1955.5L1696.25 1951.8L1696.75 1955L1697.25 1955.6L1697.75 1951.4L1698.25 1952.6L1698.75 1954.6L1699.25 1953.8L1699.75 1951L1700.25 1955.3L1700.75 1954.1L1701.25 1955.5L1701.75 1952.8L1702.25 1954.7L1702.75 1955.1L1703.25 1953.8L1703.75 1955.9L1704.25 1954.3L1704.75 1954.6L1705.25 1954L1705.75 1954.4L1706.25 1953.7L1706.75 1955.8L1707.25 1954.2L1707.75 1953.3L1708.25 1956.6L1708.75 1955.9L1709.25 1956.5L1709.75 1954.8L1710.25 1955.4L1711.25 1952.8L1711.75 1953.9L1712.75 1954.7L1713.25 1955.5L1713.75 1952.7L1714.25 1956L1714.75 1954.8L1715.25 1955.5L1715.75 1956.8L1716.25 1956.7L1716.75 1955.5L1717.25 1957.1L1717.75 1956L1718.25 1957.2L1718.75 1957.2L1719.25 1954.7L1719.75 1953.4L1720.25 1954.2L1720.75 1954.6L1721.25 1954.3L1721.75 1953.1L1722.25 1953.2L1722.75 1954.3L1723.25 1954.1L1723.75 1955.9L1724.25 1955.6L1724.75 1957.1L1725.25 1956.1L1725.75 1958.5L1726.25 1956.7L1726.75 1957.8L1727.25 1956.7L1727.75 1957.6L1728.25 1958.1L1728.75 1957.3L1729.25 1957.9L1729.75 1955.6L1730.75 1958.7L1731.25 1957.3L1731.75 1957.7L1732.25 1958.3L1732.75 1958L1733.25 1958.3L1733.75 1959.2L1734.25 1957.5L1735.25 1955.8L1735.75 1955.4L1736.25 1960.1L1736.75 1957L1737.25 1958.3L1737.75 1957.9L1738.25 1959.2L1738.75 1958.8L1739.25 1959.7L1739.75 1961.4L1740.25 1958.6L1740.75 1959.9L1741.25 1958.8L1741.75 1959.6L1742.25 1957.6L1742.75 1958.9L1743.25 1957.2L1743.75 1956.2L1744.75 1957.9L1745.25 1957.8L1745.75 1958.7L1746.25 1960.4L1746.75 1957.2L1747.25 1958.9L1747.75 1958.3L1748.25 1957.1L1748.75 1956.6L1749.25 1958.1L1749.75 1958.1L1750.25 1957.1L1751.25 1958.3L1751.75 1956.8L1752.25 1958.5L1752.75 1959L1753.25 1961.1L1753.75 1957.7L1754.75 1959.6L1755.25 1958.5L1756.25 1958L1756.75 1957.2L1757.75 1958.8L1758.25 1956.6L1758.75 1959.6L1759.25 1955.8L1759.75 1960.3L1760.25 1958.9L1760.75 1956.5L1761.25 1958.5L1761.75 1957L1762.25 1957.4L1762.75 1957.1L1763.25 1956.3L1763.75 1956.1L1764.25 1957.3L1764.75 1956.8L1765.25 1956.8L1765.75 1956.3L1766.25 1955.4L1766.75 1959.4L1767.25 1958.1L1767.75 1955.4L1768.25 1958.2L1768.75 1958.7L1769.25 1955.8L1769.75 1957.3L1770.25 1957.9L1770.75 1959.7L1771.25 1958.7L1771.75 1958.9L1772.25 1958L1772.75 1959L1773.25 1956.3L1773.75 1958.5L1774.25 1958.5L1774.75 1955.9L1775.75 1959.1L1776.25 1959.5L1776.75 1959.3L1777.25 1957.4L1777.75 1958.7L1778.25 1958.3L1778.75 1960.4L1779.25 1957.7L1780.25 1956.1L1780.75 1958.6L1781.25 1959.4L1781.75 1958.5L1782.25 1958.6L1782.75 1959.4L1783.25 1961.2L1783.75 1957.4L1784.25 1958.7L1785.25 1959.4L1785.75 1960.6L1786.25 1960.1L1786.75 1959.3L1787.25 1960.6L1787.75 1960L1788.25 1958.8L1788.75 1958.6L1789.25 1956.7L1789.75 1958.5L1790.25 1957.6L1790.75 1957.4L1791.25 1958.5L1791.75 1956.5L1792.25 1957.1L1792.75 1957L1793.25 1957.7L1793.75 1957.1L1794.75 1960.3L1795.25 1959.8L1795.75 1957.9L1796.25 1957.7L1796.75 1958.9L1797.25 1958.7L1797.75 1957.2L1798.25 1957.3L1798.75 1957.1L1799.25 1958.2L1799.75 1960.4L1800.25 1960.7L1800.75 1957.3L1801.25 1957.9L1801.75 1956.5L1802.25 1956L1802.75 1957.9L1803.25 1957.9L1803.75 1956.9L1804.25 1958.1L1804.75 1956.9L1805.25 1959.1L1805.75 1957.4L1806.25 1959.1L1806.75 1957.5L1807.25 1957.5L1807.75 1957.9L1808.25 1955.4L1809.25 1957.2L1809.75 1957.2L1810.25 1957.7L1810.75 1956.1L1811.25 1955.3L1811.75 1956.8L1812.25 1957.5L1812.75 1956.4L1813.25 1959L1813.75 1958.2L1814.75 1958.3L1815.25 1956.2L1815.75 1960L1816.25 1956.8L1816.75 1958.6L1817.25 1959.4L1817.75 1959.3L1818.25 1959.4L1818.75 1958.1L1819.75 1959.6L1820.25 1961.5L1820.75 1959.3L1821.25 1960.9L1822.75 1958L1823.25 1958.5L1823.75 1956.8L1824.25 1959.5L1824.75 1959.9L1825.25 1958.6L1825.75 1959.8L1826.25 1959.3L1826.75 1957.5L1827.25 1959.3L1827.75 1957.9L1828.25 1961.8L1828.75 1957.7L1829.25 1957.7L1829.75 1957.5L1830.75 1959.1L1831.25 1957.8L1831.75 1957.4L1832.25 1960.6L1832.75 1960L1833.25 1958.9L1833.75 1959.1L1834.25 1957L1835.25 1960.7L1835.75 1957.1L1836.25 1957.1L1836.75 1959.5L1837.25 1956.6L1837.75 1961.5L1838.25 1958.2L1838.75 1959.2L1839.25 1959.4L1839.75 1960.7L1840.25 1959.2L1840.75 1955.9L1841.25 1956.2L1841.75 1958.7L1842.25 1955.9L1842.75 1958.3L1843.25 1957.8L1843.75 1959.8L1844.25 1960.2L1844.75 1955.8L1845.25 1959.5L1845.75 1959.5L1846.25 1957.6L1846.75 1957.8L1847.25 1957.4L1848.75 1961.9L1849.25 1961.7L1849.75 1959.1L1850.25 1958L1850.75 1959.8L1851.25 1954.9L1851.75 1956.6L1852.75 1961.6L1853.25 1957.9L1853.75 1959L1854.25 1957.7L1854.75 1959.1L1855.25 1959L1855.75 1958.2L1856.25 1959.7L1856.75 1958.9L1857.25 1959.8L1857.75 1959.2L1858.25 1958.2L1858.75 1959.9L1859.25 1960.9L1859.75 1958.5L1860.25 1960.6L1861.25 1957.4L1861.75 1957.9L1862.75 1956.2L1863.25 1958.4L1863.75 1958.7L1864.25 1957.2L1864.75 1957.6L1865.25 1957.4L1866.25 1959.8L1866.75 1957.3L1867.25 1958.3L1867.75 1957.5L1868.25 1958.1L1868.75 1959.1L1869.25 1956.2L1869.75 1955.1L1870.25 1957.8L1870.75 1956.2L1871.25 1960L1871.75 1957.1L1872.75 1957.9L1873.25 1957.9L1873.75 1957.3L1874.25 1957.6L1874.75 1958.5L1875.25 1956.6L1875.75 1959.2L1876.25 1957.6L1876.75 1954.2L1877.25 1958.5L1877.75 1955.4L1878.75 1960.5L1879.25 1959.1L1879.75 1956.4L1880.25 1956.7L1880.75 1957.7L1881.25 1959.4L1881.75 1956.7L1882.25 1959.1L1882.75 1957.8L1883.25 1957.3L1883.75 1957.3L1884.25 1959.5L1884.75 1955.5L1885.25 1955.9L1885.75 1958.6L1886.25 1959.5L1886.75 1957.1L1887.25 1957.5L1887.75 1956.8L1888.25 1958.5L1888.75 1956.6L1889.25 1959.2L1890.25 1957.8L1890.75 1957.9L1891.75 1959.7L1892.25 1958.8L1893.25 1959.6L1893.75 1958.2L1894.25 1959.3L1895.25 1956.5L1895.75 1957.3L1896.25 1958.9L1896.75 1958.7L1897.25 1955.2L1897.75 1957.7L1898.25 1956.6L1899.25 1956.2L1899.75 1956.2L1900.25 1955.7L1900.75 1955.9L1901.25 1956.8L1901.75 1955.2L1902.75 1955.7L1903.25 1955.7L1903.75 1957.9L1904.25 1955.7L1904.75 1956.9L1905.25 1957.1L1905.75 1957.9L1906.25 1957L1906.75 1958.4L1907.25 1956.8L1907.75 1956.7L1908.25 1957.2L1908.75 1954.2L1909.75 1957.5L1910.25 1956.3L1910.75 1956.2L1911.25 1959.2L1911.75 1957L1912.25 1958.3L1912.75 1953.5L1913.25 1956.6L1913.75 1955.9L1914.75 1958.3L1915.25 1956.4L1915.75 1955.8L1916.25 1952.3L1916.75 1956.6L1917.25 1957.2L1917.75 1955.3L1918.25 1954.2L1919.25 1956.6L1919.75 1956.5L1920.25 1958.8L1920.75 1955.8L1921.25 1954.9L1921.75 1957.3L1922.25 1958.2L1922.75 1955.9L1923.25 1956.1L1924.25 1953.4L1924.75 1954.2L1925.25 1953L1925.75 1956L1926.75 1957L1927.25 1954.8L1927.75 1954.8L1928.25 1953.1L1928.75 1953.2L1929.75 1958.4L1930.25 1954L1931.25 1956.8L1931.75 1954.5L1932.25 1955.6L1932.75 1954.4L1933.25 1954.2L1933.75 1955.4L1934.75 1952.6L1935.25 1955.3L1935.75 1954.7L1936.75 1954.3L1937.25 1956L1937.75 1954.9L1938.75 1957.3L1939.25 1956.4L1939.75 1958.3L1940.25 1954.7L1940.75 1956.8L1941.25 1956.6L1941.75 1958.4L1942.25 1956.4L1942.75 1957.7L1943.75 1954.8L1944.75 1954.1L1945.25 1955.7L1945.75 1954L1946.75 1955.5L1947.25 1955.8L1947.75 1955.2L1948.25 1956.1L1948.75 1953.3L1949.25 1954.2L1950.25 1955L1950.75 1954.4L1951.25 1953L1951.75 1954.4L1952.25 1953L1952.75 1956.3L1953.25 1953.1L1953.75 1955.1L1954.25 1955.7L1954.75 1955.4L1955.25 1952.6L1955.75 1955.1L1956.25 1954.3L1956.75 1954.4L1957.25 1956.7L1958.25 1952.6L1958.75 1953.5L1959.25 1955.8L1959.75 1955.4L1960.25 1953.5L1960.75 1952.4L1961.25 1953.4L1961.75 1953.5L1962.25 1955.6L1962.75 1954.3L1963.25 1956L1963.75 1956.4L1964.25 1953.2L1964.75 1954.5L1965.25 1956.6L1965.75 1953.9L1966.25 1954.3L1966.75 1955.7L1967.25 1953.7L1967.75 1954.3L1968.25 1952.2L1968.75 1954.2L1969.25 1952.6L1969.75 1953L1970.25 1950.9L1970.75 1955.6L1971.25 1955.2L1971.75 1953.5L1972.25 1956.3L1972.75 1951.6L1973.25 1954.7L1973.75 1952L1974.25 1956.6L1974.75 1949.7L1975.25 1951.5L1975.75 1952.3L1976.25 1954L1976.75 1953.8L1977.75 1951.6L1978.25 1955.1L1978.75 1951.8L1979.75 1954.7L1980.25 1951.1L1980.75 1951.9L1981.25 1954.5L1981.75 1954L1982.25 1951.8L1982.75 1953L1983.25 1955L1983.75 1951.6L1984.25 1952.4L1984.75 1951.2L1985.25 1950.6L1985.75 1954.1L1986.25 1953.4L1986.75 1953.2L1987.25 1951.1L1987.75 1951.4L1988.75 1951.6L1989.25 1950.2L1989.75 1950.3L1990.25 1952.7L1990.75 1949.4L1991.25 1949.9L1992.25 1950L1992.75 1949L1993.25 1949L1993.75 1951L1994.25 1949.8L1994.75 1949.9L1995.25 1953.1L1995.75 1949.4L1996.25 1952L1997.25 1947.9L1997.75 1949.1L1998.25 1948.9L1998.75 1950.5L2000.75 1946.1L2001.25 1947.8L2001.75 1946.7L2002.25 1947.8L2002.75 1946.9L2003.75 1948.1L2004.25 1947.2L2004.75 1947.9L2005.25 1946.8L2005.75 1948.6L2006.25 1948.5L2006.75 1949L2007.25 1948.5L2007.75 1945.9L2008.25 1945.9L2008.75 1949L2009.25 1949.4L2009.75 1946.8L2010.25 1949.1L2010.75 1947.5L2011.25 1947.4L2011.75 1948.6L2012.25 1946.9L2012.75 1946.2L2013.25 1947.9L2013.75 1947.6L2014.25 1948.8L2014.75 1948.9L2015.25 1945.5L2015.75 1947.2L2016.25 1947.4L2016.75 1942.7L2017.25 1945.2L2018.25 1944.1L2018.75 1947.4L2019.25 1947.5L2019.75 1945.5L2020.25 1945.8L2020.75 1948.8L2021.25 1948.3L2021.75 1946.2L2022.25 1947.4L2023.25 1946.9L2023.75 1947.5L2024.25 1945.6L2024.75 1946.6L2025.25 1944.9L2025.75 1943.9L2026.25 1944.2L2026.75 1945.9L2027.25 1946.6L2028.25 1945.9L2028.75 1948.4L2029.25 1947.1L2030.75 1949.1L2031.25 1948.5L2031.75 1948.1L2032.25 1948.5L2033.25 1943.7L2033.75 1945.2L2034.25 1942.3L2034.75 1943L2035.25 1944.4L2035.75 1944.3L2036.25 1943.2L2036.75 1945.5L2037.75 1942.5L2038.75 1941.3L2039.25 1939.8L2039.75 1941.7L2040.75 1944L2041.25 1943.2L2041.75 1944.6L2042.25 1942.6L2042.75 1943.3L2043.25 1945L2043.75 1942.3L2044.25 1942.4L2046 1935.1L2046.5 1928.1L2046.75 1933.7L2047 1936.1L2047.25 1936.9L2047.75 1935.1L2048.25 1936.3L2048.75 1932.7L2049.25 1937L2049.75 1934.3L2050.25 1935.5L2050.75 1934.5L2051.25 1936.7L2051.75 1934.2L2052.25 1934.3L2052.75 1934.8L2053.25 1932.8L2053.75 1932.4L2054.25 1934.8L2054.75 1933.7L2055.75 1934.9L2056.25 1931.4L2056.75 1932.5L2057.5 1927.2L2058 1902.9L2058.5 1926.9L2058.75 1928.7L2059 1929.2L2059.25 1928.9L2059.75 1924.3L2060.25 1895L2060.75 1923L2061.25 1931.9L2061.75 1931.1L2062.25 1932.9L2062.75 1932L2063.25 1931.7L2063.75 1927.6L2064.75 1928.5L2065.75 1935.2L2066.25 1935L2066.75 1930.4L2067.25 1933.2L2067.75 1927.5L2068.25 1933L2068.75 1932L2069.25 1929.5L2069.75 1929L2070.75 1928.8L2071.25 1932.8L2071.75 1932.7L2072.5 1930.2L2073 1920.5L2073.25 1928.7L2073.5 1931.2L2074 1931.2L2074.25 1931.1L2075.25 1928.4L2075.75 1927.6L2076 1925.8L2076.25 1920.5L2076.5 1911.4L2076.75 1923L2077 1927.1L2077.25 1927.8L2077.75 1926.6L2078.25 1922.8L2078.75 1925.3L2079.25 1918.9L2079.5 1921.7L2080.25 1926.4L2080.5 1925.6L2081 1921.5L2081.5 1895.9L2081.75 1914.6L2082 1921.5L2082.25 1922.4L2082.5 1922.2L2082.75 1921.5L2083 1921.7L2083.25 1921.4L2083.5 1920.2L2083.75 1917.3L2084.25 1924.6L2084.75 1921.1L2085.25 1907.9L2085.5 1889.8L2086 1704.4L2086.25 1831.9L2086.5 1896L2086.75 1917.2L2087 1923.1L2087.25 1924.1L2087.75 1904.9L2088.25 1924.5L2088.5 1925.4L2088.75 1925.1L2089 1925.3L2089.25 1925.1L2089.75 1928.7L2090.25 1929.9L2090.75 1930.1L2091 1929.7L2091.25 1929.1L2091.75 1920.6L2092.25 1916.7L2092.75 1914.9L2093 1912.9L2093.75 1904.2L2094.25 1890L2094.5 1876.9L2095 1838.5L2095.5 1859.5L2095.75 1864.1L2096 1862.1L2096.25 1851.9L2096.5 1828.6L2097 1714.3L2097.75 1146.2L2098.5 1711.2L2099 1823.2L2099.25 1843.4L2099.5 1845.9L2099.75 1810.9L2100 1724.6L2100.25 1825.9L2100.5 1875.1L2100.75 1891.2L2101 1898.7L2102.25 1917.3L2102.75 1919.4L2103.75 1929.7L2104 1931L2104.25 1932.3L2104.75 1931.6L2105.25 1936.5L2105.5 1937L2105.75 1937.2L2106 1936.5L2106.25 1934.2L2106.5 1926.4L2106.75 1910L2107.25 1934.8L2107.75 1940.3L2108 1940.3L2108.25 1940L2108.75 1937.7L2109.25 1927.6L2109.75 1939.2L2110 1939.6L2110.5 1938.7L2111 1934.6L2111.5 1906.2L2112 1937.2L2112.25 1939.8L2112.75 1942.5L2113.25 1940.7L2113.5 1937.8L2114 1915.1L2114.25 1929.1L2114.5 1937.4L2114.75 1940.7L2115.25 1944.9L2115.75 1941.8L2116.75 1944.2L2117.25 1946.5L2118.25 1943.7L2118.75 1944.3L2119.25 1944.2L2119.75 1943.6L2120.25 1943.6L2120.5 1943.9L2120.75 1943.9L2121 1942.1L2121.25 1937.3L2121.5 1928.7L2122 1941.2L2122.25 1942.4L2122.75 1941.5L2123.75 1945.1L2124.25 1944.8L2124.75 1940.8L2125.25 1923.7L2125.75 1938.9L2126.25 1942.2L2126.75 1943L2127 1942.8L2127.25 1942.1L2127.75 1934.7L2128.25 1942.3L2128.5 1942.3L2128.75 1942L2129.25 1942.7L2129.75 1944.6L2130.25 1944.1L2130.75 1943.2L2131.25 1938.2L2131.75 1938.3L2133 1927.4L2133.25 1924.6L2133.5 1917.8L2133.75 1905.4L2134 1877.4L2134.5 1606L2135 1875.8L2135.25 1903.4L2135.5 1912.8L2135.75 1916.7L2136 1918.5L2136.25 1919L2137 1913.2L2137.25 1909.2L2138 1875L2138.75 1904.2L2139 1906L2139.25 1903.3L2139.5 1896.9L2140 1876.1L2140.5 1890.3L2140.75 1894.6L2141 1894.5L2141.25 1888.5L2142 1849.5L2142.75 1893.9L2143.25 1911.6L2143.75 1918.6L2144.75 1922.5L2145.5 1920.9L2145.75 1919.8L2146.25 1915.5L2147 1896.3L2147.5 1906.1L2147.75 1908.3L2148 1909.3L2148.25 1906.9L2148.75 1893.9L2149.25 1891L2149.5 1886.3L2150.25 1854.1L2151.25 1904.5L2151.5 1912.3L2152.25 1926.4L2152.75 1929.9L2153 1930L2153.25 1929.7L2153.75 1931.1L2154.25 1930.2L2155 1933.5L2155.25 1933.8L2155.75 1919.8L2156 1929.3L2156.75 1940L2157.25 1941.5L2157.75 1942.1L2158.25 1944.2L2158.75 1941.3L2159.25 1947.7L2159.75 1951.5L2160.25 1950.1L2160.75 1947L2161.25 1950.7L2161.75 1952.8L2162.75 1950L2163.25 1950.7L2164.25 1951.3L2164.75 1951.9L2165.25 1949.6L2165.75 1944.2L2166.25 1945.1L2166.75 1944.3L2167.25 1944.8L2167.75 1940.4L2168.25 1938.8L2168.75 1938.8L2169.25 1938.5L2169.75 1935.7L2170.25 1938.3L2170.75 1935.3L2171.25 1936L2171.5 1935.5L2171.75 1934.5L2173 1923.9L2173.75 1925.6L2174 1927.3L2174.5 1929.2L2174.75 1929.3L2175.75 1922.9L2176.75 1932L2177.25 1933.9L2177.75 1929.7L2178.25 1935.1L2178.75 1936.8L2179.25 1931.7L2179.5 1926.5L2179.75 1915L2180 1884.1L2180.5 1567.9L2181 1884.7L2181.25 1917L2181.5 1929.9L2182 1940.4L2182.75 1946.7L2183.25 1947.7L2184.25 1951.8L2184.75 1952.8L2185.25 1952.4L2185.75 1953.6L2186.25 1952.4L2186.75 1948.7L2187.25 1948.8L2187.75 1951.2L2188.25 1950.7L2188.75 1953.5L2189.25 1951.7L2189.75 1953.1L2190.25 1952.9L2190.75 1952.4L2191.25 1952.6L2191.75 1953.2L2192.25 1953.3L2192.75 1952.5L2193.25 1953L2193.75 1952.8L2194.25 1948.8L2194.75 1926.7L2195 1941.9L2195.25 1949.5L2195.5 1951.8L2195.75 1952.8L2196 1953L2196.25 1953L2196.75 1953.8L2197 1954.9L2197.25 1954.1L2197.5 1947.6L2198 1955L2198.75 1957.2L2199.25 1957.9L2199.75 1959.4L2200.25 1959.9L2200.75 1957.1L2201.25 1961.5L2201.75 1958.2L2202.25 1959.6L2203.25 1957.5L2203.75 1957.4L2204.25 1962L2204.75 1961.3L2205.25 1958L2205.75 1957.6L2206.25 1960.4L2206.75 1957.2L2207.75 1961.6L2208.25 1960.6L2208.75 1962L2209.25 1960.8L2209.75 1958.5L2210.25 1959.5L2210.75 1958.4L2211.25 1961L2211.75 1958.9L2212.25 1960.3L2212.75 1959.3L2213.25 1958.8L2213.75 1960.2L2214.25 1959.3L2214.75 1959.3L2215.25 1961.9L2215.75 1961.2L2216.25 1959.9L2216.75 1963.2L2217.25 1959.7L2217.75 1961.3L2218.25 1961.5L2219.25 1959.7L2219.75 1960.3L2220.25 1960L2220.75 1958.9L2221.25 1961.2L2221.75 1959.4L2222.25 1959.4L2222.75 1962.3L2223.25 1959.7L2223.75 1958.6L2224.25 1960L2225.25 1959.6L2225.75 1961.9L2226.25 1958.7L2226.75 1961L2227.25 1960.5L2227.75 1961.2L2228.25 1959.3L2228.75 1958.9L2229.25 1958.9L2229.75 1959.5L2230.75 1961.3L2231.25 1957.1L2231.75 1960.5L2232.25 1959.5L2232.75 1959.1L2233.25 1958L2233.75 1959.8L2234.25 1957L2234.75 1960.6L2235.25 1957.7L2235.75 1958.7L2236.25 1958.6L2236.75 1959.3L2237.25 1956.2L2237.75 1958L2238.25 1956.9L2238.75 1958.1L2239.25 1956.7L2239.75 1956.4L2240.25 1954.3L2241.25 1959.8L2241.75 1957.3L2242.25 1957.1L2242.75 1957.2L2243.25 1957.9L2243.75 1953.9L2244.25 1957L2244.75 1954.6L2245.25 1954.3L2245.75 1952.6L2246.25 1954.2L2246.75 1951.1L2247.25 1953.4L2247.75 1952.7L2248.25 1950.4L2249.25 1950.9L2249.75 1948.8L2250.25 1948L2250.75 1948.6L2251.25 1948L2251.75 1948L2252.25 1948.5L2252.75 1947.1L2253.25 1948.5L2253.5 1948.3"/>
<path class="a" d="M1197.3 2023.6 L1197.3 2005.8 L2256.9 2005.8 L2256.9 2023.6M1329.8 2005.8L1329.8 2013.8M1462.2 2005.8L1462.2 2023.6M1594.7 2005.8L1594.7 2013.8M1727.1 2005.8L1727.1 2023.6M1859.5 2005.8L1859.5 2013.8M1992.0 2005.8L1992.0 2023.6M2124.5 2005.8L2124.5 2013.8"/>
<text class="t" transform="matrix(1 0 0 1.04 1197.3 2072.0)">200</text>
<text class="t" transform="matrix(1 0 0 1.04 1462.2 2072.0)">150</text>
<text class="t" transform="matrix(1 0 0 1.04 1727.1 2072.0)">100</text>
<text class="t" transform="matrix(1 0 0 1.04 1992.0 2072.0)">50</text>
<text class="t" transform="matrix(1 0 0 1.04 2256.9 2072.0)">0</text>
<text class="p" x="1726.5" y="2118.8">ppm</text>
<text class="l" transform="matrix(1 0 0 1.04 1625.3 1527.2)">CT+GO, 3h</text>
</g>
</svg>
</body>
</html>
